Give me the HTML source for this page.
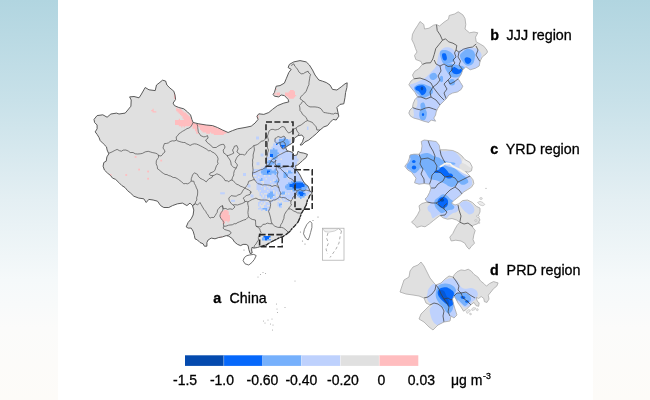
<!DOCTYPE html>
<html lang="en">
<head>
<meta charset="utf-8">
<title>PM2.5 change map</title>
<style>
html,body{margin:0;padding:0;}
body{width:650px;height:400px;overflow:hidden;position:relative;
background:linear-gradient(to bottom,#b1d5e0 0%,#c8e1e9 25%,#e4eff3 50%,#f5f9fa 70%,#fbfbfa 82%,#fdfbf8 100%);
font-family:"Liberation Sans",sans-serif;}
#panel{position:absolute;left:58px;top:0;width:535px;height:400px;background:#fff;}
svg{position:absolute;left:0;top:0;filter:blur(0.35px);}
svg text{font-family:"Liberation Sans",sans-serif;fill:#000;stroke:#000;stroke-width:0.3px;}
</style>
</head>
<body>
<div id="panel"></div>
<svg width="650" height="400" viewBox="0 0 650 400">
<defs>
<clipPath id="cn"><path d="M94.0 119.4 L97.1 115.6 L102.8 114.8 L107.1 117.2 L110.9 114.0 L116.5 113.1 L119.0 114.0 L125.2 113.1 L127.8 110.0 L130.9 106.2 L131.2 100.0 L129.6 96.9 L134.0 96.5 L139.0 97.8 L140.9 95.0 L145.2 87.5 L149.0 89.8 L155.2 90.6 L156.5 85.0 L159.0 83.1 L162.5 80.2 L165.6 81.0 L166.9 85.0 L170.0 88.1 L173.8 91.2 L175.0 95.0 L175.6 99.4 L173.1 103.1 L174.4 105.6 L178.8 107.5 L183.8 108.8 L187.5 111.9 L190.6 115.0 L191.9 119.4 L193.1 122.5 L198.8 123.8 L206.2 125.0 L212.5 125.6 L217.5 127.5 L222.5 130.0 L228.1 132.5 L232.5 130.6 L237.5 128.8 L245.0 127.5 L251.2 126.2 L255.0 123.1 L258.1 119.4 L256.9 116.2 L258.8 113.8 L263.8 114.4 L268.8 112.5 L272.5 109.4 L277.5 105.6 L283.8 103.1 L288.8 101.9 L288.1 99.4 L284.4 95.6 L281.2 95.0 L278.8 96.9 L274.4 96.2 L273.1 94.4 L274.4 92.5 L276.2 86.2 L280.0 85.6 L284.4 83.1 L286.2 78.8 L288.8 72.5 L291.2 69.4 L288.1 67.5 L289.4 64.4 L293.8 61.9 L300.0 60.6 L306.2 61.9 L309.4 65.0 L312.5 70.0 L315.0 75.0 L318.8 80.0 L322.5 81.2 L326.2 82.5 L330.0 85.0 L332.5 89.4 L336.9 90.0 L341.2 86.9 L345.0 83.8 L347.2 82.8 L346.9 87.5 L345.6 92.5 L345.0 97.5 L343.8 103.8 L340.0 104.4 L336.9 107.5 L338.1 113.1 L338.8 116.2 L336.2 120.0 L333.1 119.4 L330.0 122.5 L327.5 125.6 L323.8 126.9 L320.0 130.0 L316.2 133.8 L312.5 136.9 L308.8 140.0 L305.0 141.9 L301.9 145.0 L300.0 145.0 L302.5 141.9 L303.8 137.5 L301.9 135.0 L298.1 135.6 L294.4 138.1 L293.8 141.9 L291.2 143.8 L288.1 145.6 L285.6 147.5 L286.9 150.6 L291.2 151.9 L293.1 153.1 L293.8 155.6 L296.9 155.0 L298.1 151.2 L300.0 152.5 L303.8 153.1 L307.5 154.4 L306.2 157.5 L302.5 160.6 L300.0 163.1 L297.5 165.0 L295.6 165.6 L296.2 170.0 L297.5 171.2 L300.0 175.0 L302.5 180.0 L305.0 183.8 L308.1 186.2 L310.0 191.2 L312.5 193.0 L310.0 195.0 L308.8 198.0 L307.5 200.0 L306.2 205.0 L303.8 209.4 L301.2 213.8 L300.0 217.5 L298.1 221.9 L295.0 225.6 L291.9 228.8 L290.0 231.2 L286.2 234.4 L282.5 236.9 L280.0 237.5 L275.0 240.0 L270.0 242.5 L266.2 245.0 L261.2 246.2 L257.5 247.5 L253.8 248.1 L252.0 247.3 L251.6 250.0 L252.2 253.0 L250.2 253.6 L248.8 249.5 L248.1 245.6 L246.2 244.4 L243.1 244.4 L240.6 245.6 L237.5 244.4 L234.4 241.9 L232.5 238.8 L228.8 236.2 L226.2 235.6 L222.5 236.9 L218.8 237.5 L215.0 238.8 L211.2 238.1 L208.1 240.0 L206.9 242.5 L206.9 246.2 L204.4 246.2 L203.1 243.8 L200.0 242.5 L197.5 240.0 L195.0 238.8 L194.4 235.6 L193.1 231.2 L191.2 228.1 L188.1 228.1 L186.2 226.9 L188.1 222.5 L191.2 218.8 L193.1 215.0 L193.8 210.0 L192.5 205.6 L190.0 203.1 L186.9 205.6 L182.5 203.1 L177.5 203.8 L172.5 205.6 L168.8 207.5 L163.8 207.5 L160.6 205.6 L157.5 201.2 L153.1 200.0 L148.8 199.4 L146.2 202.5 L143.8 198.8 L138.8 198.1 L133.8 196.2 L130.6 193.1 L127.5 190.6 L125.0 187.5 L121.9 185.6 L118.8 182.5 L115.6 179.4 L112.5 178.1 L110.6 175.6 L107.5 173.1 L104.4 170.0 L103.1 166.2 L103.8 162.5 L106.2 161.2 L106.9 156.9 L108.8 153.8 L107.1 150.0 L106.5 146.9 L103.4 143.8 L100.2 140.6 L99.0 137.5 L97.1 134.4 L95.2 131.9 L97.1 128.8 L97.1 125.0 L94.6 122.5Z"/></clipPath>
<clipPath id="cj"><path d="M420.0 21.5 L423.8 24.5 L424.5 29.0 L429.0 28.2 L433.5 25.2 L436.5 24.5 L439.5 26.0 L444.0 22.2 L448.5 19.2 L449.2 15.5 L454.5 14.0 L458.2 11.8 L462.8 14.8 L465.0 18.5 L465.8 24.5 L465.0 29.0 L469.5 32.8 L474.0 32.0 L477.8 32.8 L475.5 37.2 L476.2 41.8 L480.0 44.0 L483.8 46.2 L486.8 50.0 L487.5 52.0 L486.0 54.0 L482.2 57.0 L480.0 61.5 L479.2 66.0 L475.5 68.2 L470.2 69.8 L465.8 66.8 L462.8 69.8 L461.2 74.2 L458.2 78.8 L460.5 82.5 L462.8 86.2 L461.2 89.4 L457.5 91.9 L452.5 93.1 L448.8 95.0 L446.2 98.8 L443.1 101.9 L440.0 105.0 L437.5 108.8 L436.2 111.9 L435.6 115.0 L433.8 118.1 L435.6 121.2 L431.2 120.0 L428.8 122.5 L423.8 121.2 L418.8 119.4 L413.8 118.1 L410.6 116.2 L408.8 113.1 L410.0 110.0 L412.5 107.5 L413.1 103.8 L415.0 99.4 L417.5 96.9 L415.0 92.5 L411.9 88.8 L408.8 84.8 L411.0 81.0 L414.0 78.8 L412.5 75.0 L414.8 71.2 L418.5 69.0 L422.2 64.5 L421.0 61.5 L415.8 59.5 L414.5 55.5 L417.0 52.0 L415.5 48.5 L414.0 44.0 L411.8 39.5 L412.5 34.2 L414.8 29.8 L417.8 25.2Z"/></clipPath>
<clipPath id="cy"><path d="M421.2 141.5 L424.2 140.0 L431.0 140.8 L436.2 141.5 L439.2 145.2 L440.0 149.8 L446.0 149.8 L452.8 150.5 L458.0 152.8 L461.8 155.8 L464.8 159.5 L470.0 162.5 L472.2 167.0 L471.5 170.8 L468.5 172.2 L465.5 171.5 L470.0 176.0 L473.0 179.8 L473.8 183.5 L471.5 187.2 L467.8 189.5 L463.8 191.9 L460.0 195.6 L456.2 198.8 L453.1 201.2 L451.5 203.2 L455.0 205.0 L458.8 203.8 L462.5 200.6 L467.5 200.0 L472.5 202.5 L476.2 206.2 L480.0 208.1 L480.0 211.9 L478.1 216.2 L480.0 220.0 L477.5 223.8 L473.8 225.0 L472.0 226.5 L475.2 230.5 L473.8 235.0 L473.0 239.5 L474.5 243.2 L471.5 246.2 L469.2 249.2 L467.0 247.0 L464.8 243.2 L461.0 241.0 L455.8 240.2 L451.2 241.0 L449.8 237.2 L452.8 233.5 L455.0 229.0 L457.2 225.2 L459.8 222.2 L456.5 220.0 L452.0 218.5 L447.5 219.2 L443.0 217.8 L440.0 215.5 L437.0 217.8 L433.2 220.8 L429.5 223.8 L425.0 226.8 L421.2 226.0 L416.8 227.5 L415.2 225.2 L411.5 222.2 L414.5 219.2 L417.5 214.8 L419.8 210.2 L419.0 205.8 L422.0 203.5 L427.2 202.0 L425.0 199.0 L427.2 197.0 L429.5 192.5 L431.0 188.0 L429.5 184.2 L424.2 183.5 L419.0 184.2 L414.5 182.8 L416.0 178.2 L413.8 175.2 L411.5 172.2 L407.8 170.0 L404.8 166.2 L407.8 162.5 L409.2 158.8 L410.0 155.0 L413.8 154.2 L419.0 154.2 L421.2 151.2 L422.0 146.0Z"/></clipPath>
<clipPath id="cp"><path d="M421.0 262.0 L424.0 266.0 L427.0 272.0 L430.0 278.0 L434.0 283.0 L436.0 285.0 L441.0 283.0 L445.0 279.0 L449.0 276.0 L453.0 277.0 L454.5 274.4 L457.1 271.8 L461.0 269.9 L464.9 270.5 L468.2 269.2 L471.4 271.2 L474.0 274.4 L477.9 277.0 L480.5 280.9 L483.8 283.5 L486.4 286.1 L489.6 283.5 L493.5 281.6 L498.1 282.9 L496.8 286.1 L493.5 288.7 L490.9 292.0 L488.3 295.2 L489.0 299.1 L487.0 302.4 L484.4 301.7 L483.8 298.5 L481.2 296.5 L478.6 298.5 L476.0 297.2 L477.3 301.1 L479.2 303.0 L478.6 306.3 L476.0 305.6 L474.0 302.4 L471.4 304.3 L468.8 306.9 L466.2 309.5 L463.5 311.2 L461.0 307.0 L458.0 303.0 L456.0 299.0 L454.0 296.0 L452.5 299.0 L453.5 304.0 L455.0 309.0 L457.0 315.0 L454.0 318.0 L451.0 316.0 L450.0 321.0 L444.0 322.0 L438.0 325.0 L433.0 330.0 L429.0 327.0 L424.0 322.0 L419.0 319.0 L421.0 314.0 L426.0 309.0 L430.0 305.0 L426.0 303.0 L424.0 298.0 L419.0 296.0 L413.0 295.0 L406.0 294.0 L400.0 292.0 L402.0 286.0 L404.0 280.0 L409.0 277.0 L410.0 271.0 L413.0 267.0 L418.0 265.0Z"/></clipPath>
</defs>
<path d="M94.0 119.4 L97.1 115.6 L102.8 114.8 L107.1 117.2 L110.9 114.0 L116.5 113.1 L119.0 114.0 L125.2 113.1 L127.8 110.0 L130.9 106.2 L131.2 100.0 L129.6 96.9 L134.0 96.5 L139.0 97.8 L140.9 95.0 L145.2 87.5 L149.0 89.8 L155.2 90.6 L156.5 85.0 L159.0 83.1 L162.5 80.2 L165.6 81.0 L166.9 85.0 L170.0 88.1 L173.8 91.2 L175.0 95.0 L175.6 99.4 L173.1 103.1 L174.4 105.6 L178.8 107.5 L183.8 108.8 L187.5 111.9 L190.6 115.0 L191.9 119.4 L193.1 122.5 L198.8 123.8 L206.2 125.0 L212.5 125.6 L217.5 127.5 L222.5 130.0 L228.1 132.5 L232.5 130.6 L237.5 128.8 L245.0 127.5 L251.2 126.2 L255.0 123.1 L258.1 119.4 L256.9 116.2 L258.8 113.8 L263.8 114.4 L268.8 112.5 L272.5 109.4 L277.5 105.6 L283.8 103.1 L288.8 101.9 L288.1 99.4 L284.4 95.6 L281.2 95.0 L278.8 96.9 L274.4 96.2 L273.1 94.4 L274.4 92.5 L276.2 86.2 L280.0 85.6 L284.4 83.1 L286.2 78.8 L288.8 72.5 L291.2 69.4 L288.1 67.5 L289.4 64.4 L293.8 61.9 L300.0 60.6 L306.2 61.9 L309.4 65.0 L312.5 70.0 L315.0 75.0 L318.8 80.0 L322.5 81.2 L326.2 82.5 L330.0 85.0 L332.5 89.4 L336.9 90.0 L341.2 86.9 L345.0 83.8 L347.2 82.8 L346.9 87.5 L345.6 92.5 L345.0 97.5 L343.8 103.8 L340.0 104.4 L336.9 107.5 L338.1 113.1 L338.8 116.2 L336.2 120.0 L333.1 119.4 L330.0 122.5 L327.5 125.6 L323.8 126.9 L320.0 130.0 L316.2 133.8 L312.5 136.9 L308.8 140.0 L305.0 141.9 L301.9 145.0 L300.0 145.0 L302.5 141.9 L303.8 137.5 L301.9 135.0 L298.1 135.6 L294.4 138.1 L293.8 141.9 L291.2 143.8 L288.1 145.6 L285.6 147.5 L286.9 150.6 L291.2 151.9 L293.1 153.1 L293.8 155.6 L296.9 155.0 L298.1 151.2 L300.0 152.5 L303.8 153.1 L307.5 154.4 L306.2 157.5 L302.5 160.6 L300.0 163.1 L297.5 165.0 L295.6 165.6 L296.2 170.0 L297.5 171.2 L300.0 175.0 L302.5 180.0 L305.0 183.8 L308.1 186.2 L310.0 191.2 L312.5 193.0 L310.0 195.0 L308.8 198.0 L307.5 200.0 L306.2 205.0 L303.8 209.4 L301.2 213.8 L300.0 217.5 L298.1 221.9 L295.0 225.6 L291.9 228.8 L290.0 231.2 L286.2 234.4 L282.5 236.9 L280.0 237.5 L275.0 240.0 L270.0 242.5 L266.2 245.0 L261.2 246.2 L257.5 247.5 L253.8 248.1 L252.0 247.3 L251.6 250.0 L252.2 253.0 L250.2 253.6 L248.8 249.5 L248.1 245.6 L246.2 244.4 L243.1 244.4 L240.6 245.6 L237.5 244.4 L234.4 241.9 L232.5 238.8 L228.8 236.2 L226.2 235.6 L222.5 236.9 L218.8 237.5 L215.0 238.8 L211.2 238.1 L208.1 240.0 L206.9 242.5 L206.9 246.2 L204.4 246.2 L203.1 243.8 L200.0 242.5 L197.5 240.0 L195.0 238.8 L194.4 235.6 L193.1 231.2 L191.2 228.1 L188.1 228.1 L186.2 226.9 L188.1 222.5 L191.2 218.8 L193.1 215.0 L193.8 210.0 L192.5 205.6 L190.0 203.1 L186.9 205.6 L182.5 203.1 L177.5 203.8 L172.5 205.6 L168.8 207.5 L163.8 207.5 L160.6 205.6 L157.5 201.2 L153.1 200.0 L148.8 199.4 L146.2 202.5 L143.8 198.8 L138.8 198.1 L133.8 196.2 L130.6 193.1 L127.5 190.6 L125.0 187.5 L121.9 185.6 L118.8 182.5 L115.6 179.4 L112.5 178.1 L110.6 175.6 L107.5 173.1 L104.4 170.0 L103.1 166.2 L103.8 162.5 L106.2 161.2 L106.9 156.9 L108.8 153.8 L107.1 150.0 L106.5 146.9 L103.4 143.8 L100.2 140.6 L99.0 137.5 L97.1 134.4 L95.2 131.9 L97.1 128.8 L97.1 125.0 L94.6 122.5Z" fill="#e0e0e0"/>
<g clip-path="url(#cn)">
<path d="M290.0 90.0h3.8v1.30h-3.8zM288.8 91.2h6.2v1.30h-6.2zM285.0 92.5h10.0v1.30h-10.0zM285.0 93.8h10.0v1.30h-10.0zM285.0 95.0h11.2v1.30h-11.2zM287.5 96.2h7.5v1.30h-7.5zM288.8 97.5h5.0v1.30h-5.0zM176.2 107.5h1.2v1.30h-1.2zM152.5 108.8h1.2v1.30h-1.2zM176.2 108.8h5.0v1.30h-5.0zM151.2 110.0h2.5v1.30h-2.5zM176.2 110.0h6.2v1.30h-6.2zM152.5 111.2h3.8v1.30h-3.8zM177.5 111.2h6.2v1.30h-6.2zM178.8 112.5h7.5v1.30h-7.5zM180.0 113.8h7.5v1.30h-7.5zM181.2 115.0h7.5v1.30h-7.5zM182.5 116.2h7.5v1.30h-7.5zM182.5 117.5h8.8v1.30h-8.8zM178.8 118.8h1.2v1.30h-1.2zM183.8 118.8h7.5v1.30h-7.5zM175.0 120.0h17.5v1.30h-17.5zM175.0 121.2h17.5v1.30h-17.5zM175.0 122.5h20.0v1.30h-20.0zM175.0 123.8h28.8v1.30h-28.8zM178.8 125.0h12.5v1.30h-12.5zM192.5 125.0h18.8v1.30h-18.8zM212.5 125.0h1.2v1.30h-1.2zM181.2 126.2h1.2v1.30h-1.2zM183.8 126.2h1.2v1.30h-1.2zM192.5 126.2h5.0v1.30h-5.0zM198.8 126.2h16.2v1.30h-16.2zM192.5 127.5h5.0v1.30h-5.0zM200.0 127.5h18.8v1.30h-18.8zM195.0 128.8h2.5v1.30h-2.5zM200.0 128.8h21.2v1.30h-21.2zM195.0 130.0h2.5v1.30h-2.5zM201.2 130.0h22.5v1.30h-22.5zM196.2 131.2h1.2v1.30h-1.2zM202.5 131.2h25.0v1.30h-25.0zM196.2 132.5h2.5v1.30h-2.5zM206.2 132.5h3.8v1.30h-3.8zM211.2 132.5h15.0v1.30h-15.0zM213.8 133.8h10.0v1.30h-10.0zM223.8 210.0h3.8v1.30h-3.8zM221.2 211.2h7.5v1.30h-7.5zM220.0 212.5h8.8v1.30h-8.8zM221.2 213.8h7.5v1.30h-7.5zM220.0 215.0h10.0v1.30h-10.0zM220.0 216.2h10.0v1.30h-10.0zM221.2 217.5h8.8v1.30h-8.8zM221.2 218.8h8.8v1.30h-8.8zM222.5 220.0h7.5v1.30h-7.5zM222.5 221.2h2.5v1.30h-2.5zM227.5 221.2h1.2v1.30h-1.2zM222.5 222.5h2.5v1.30h-2.5z" fill="#ffbdbf"/>
<path d="M274.4 92.5 L275.6 92.5 L275.6 95.0 L274.4 95.0Z" fill="#ffbdbf"/>
<path d="M275.6 88.8 L276.9 88.8 L276.9 90.0 L275.6 90.0Z" fill="#ffbdbf"/>
<path d="M276.5 92.5 L280.0 92.5 L280.0 95.5 L276.5 95.5Z" fill="#ffbdbf"/>
<path d="M218.8 236.9 L222.5 236.5 L222.5 238.0 L218.8 238.2Z" fill="#ffbdbf"/>
<path d="M256.9 116.2 L258.5 114.5 L258.5 118.5 L257.0 119.0Z" fill="#ffbdbf"/>
<path d="M172.5 86.5 L174.0 86.5 L174.0 88.0 L172.5 88.0Z" fill="#ffbdbf"/>
<path d="M174.0 93.0 L175.5 93.0 L175.5 99.0 L174.0 99.0Z" fill="#ffbdbf"/>
<rect x="134.7" y="156.0" width="1.8" height="1.8" fill="#ffbdbf"/>
<rect x="160.3" y="159.7" width="1.8" height="1.8" fill="#ffbdbf"/>
<rect x="138.2" y="168.7" width="1.8" height="1.8" fill="#ffbdbf"/>
<rect x="147.2" y="170.6" width="1.8" height="1.8" fill="#ffbdbf"/>
<rect x="125.3" y="174.1" width="1.8" height="1.8" fill="#ffbdbf"/>
<rect x="147.2" y="177.8" width="1.8" height="1.8" fill="#ffbdbf"/>
<rect x="109.7" y="174.1" width="1.8" height="1.8" fill="#ffbdbf"/>
<path d="M279.0 137.5h7.5v1.55h-7.5zM274.5 139.0h1.5v1.55h-1.5zM277.5 139.0h13.5v1.55h-13.5zM274.5 140.5h16.5v1.55h-16.5zM274.5 142.0h16.5v1.55h-16.5zM273.0 143.5h4.5v1.55h-4.5zM279.0 143.5h12.0v1.55h-12.0zM273.0 145.0h16.5v1.55h-16.5zM271.5 146.5h15.0v1.55h-15.0zM271.5 148.0h16.5v1.55h-16.5zM270.0 149.5h16.5v1.55h-16.5zM270.0 151.0h18.0v1.55h-18.0zM289.5 151.0h3.0v1.55h-3.0zM268.5 152.5h12.0v1.55h-12.0zM282.0 152.5h10.5v1.55h-10.5zM268.5 154.0h25.5v1.55h-25.5zM268.5 155.5h28.5v1.55h-28.5zM267.0 157.0h3.0v1.55h-3.0zM271.5 157.0h25.5v1.55h-25.5zM267.0 158.5h1.5v1.55h-1.5zM270.0 158.5h10.5v1.55h-10.5zM282.0 158.5h10.5v1.55h-10.5zM294.0 158.5h4.5v1.55h-4.5zM267.0 160.0h31.5v1.55h-31.5zM267.0 161.5h30.0v1.55h-30.0zM267.0 163.0h30.0v1.55h-30.0zM265.5 164.5h30.0v1.55h-30.0zM264.0 166.0h22.5v1.55h-22.5zM288.0 166.0h7.5v1.55h-7.5zM261.0 167.5h34.5v1.55h-34.5zM253.5 169.0h42.0v1.55h-42.0zM253.5 170.5h1.5v1.55h-1.5zM256.5 170.5h1.5v1.55h-1.5zM259.5 170.5h27.0v1.55h-27.0zM288.0 170.5h9.0v1.55h-9.0zM252.0 172.0h46.5v1.55h-46.5zM252.0 173.5h7.5v1.55h-7.5zM261.0 173.5h33.0v1.55h-33.0zM295.5 173.5h4.5v1.55h-4.5zM256.5 175.0h7.5v1.55h-7.5zM265.5 175.0h3.0v1.55h-3.0zM270.0 175.0h30.0v1.55h-30.0zM253.5 176.5h4.5v1.55h-4.5zM259.5 176.5h40.5v1.55h-40.5zM256.5 178.0h9.0v1.55h-9.0zM267.0 178.0h21.0v1.55h-21.0zM289.5 178.0h13.5v1.55h-13.5zM255.0 179.5h18.0v1.55h-18.0zM274.5 179.5h28.5v1.55h-28.5zM256.5 181.0h4.5v1.55h-4.5zM264.0 181.0h6.0v1.55h-6.0zM271.5 181.0h33.0v1.55h-33.0zM256.5 182.5h6.0v1.55h-6.0zM264.0 182.5h42.0v1.55h-42.0zM256.5 184.0h6.0v1.55h-6.0zM264.0 184.0h4.5v1.55h-4.5zM270.0 184.0h1.5v1.55h-1.5zM273.0 184.0h1.5v1.55h-1.5zM276.0 184.0h31.5v1.55h-31.5zM256.5 185.5h4.5v1.55h-4.5zM262.5 185.5h4.5v1.55h-4.5zM268.5 185.5h4.5v1.55h-4.5zM274.5 185.5h1.5v1.55h-1.5zM279.0 185.5h30.0v1.55h-30.0zM256.5 187.0h7.5v1.55h-7.5zM265.5 187.0h3.0v1.55h-3.0zM270.0 187.0h1.5v1.55h-1.5zM273.0 187.0h36.0v1.55h-36.0zM256.5 188.5h7.5v1.55h-7.5zM265.5 188.5h45.0v1.55h-45.0zM258.0 190.0h1.5v1.55h-1.5zM261.0 190.0h6.0v1.55h-6.0zM268.5 190.0h4.5v1.55h-4.5zM274.5 190.0h16.5v1.55h-16.5zM292.5 190.0h13.5v1.55h-13.5zM307.5 190.0h3.0v1.55h-3.0zM259.5 191.5h13.5v1.55h-13.5zM274.5 191.5h1.5v1.55h-1.5zM277.5 191.5h33.0v1.55h-33.0zM259.5 193.0h1.5v1.55h-1.5zM262.5 193.0h1.5v1.55h-1.5zM267.0 193.0h9.0v1.55h-9.0zM277.5 193.0h7.5v1.55h-7.5zM286.5 193.0h1.5v1.55h-1.5zM289.5 193.0h19.5v1.55h-19.5zM259.5 194.5h3.0v1.55h-3.0zM264.0 194.5h12.0v1.55h-12.0zM279.0 194.5h1.5v1.55h-1.5zM282.0 194.5h1.5v1.55h-1.5zM285.0 194.5h10.5v1.55h-10.5zM297.0 194.5h10.5v1.55h-10.5zM261.0 196.0h1.5v1.55h-1.5zM264.0 196.0h1.5v1.55h-1.5zM267.0 196.0h6.0v1.55h-6.0zM274.5 196.0h1.5v1.55h-1.5zM277.5 196.0h15.0v1.55h-15.0zM295.5 196.0h9.0v1.55h-9.0zM262.5 197.5h3.0v1.55h-3.0zM267.0 197.5h1.5v1.55h-1.5zM270.0 197.5h9.0v1.55h-9.0zM282.0 197.5h12.0v1.55h-12.0zM300.0 197.5h1.5v1.55h-1.5zM259.5 199.0h1.5v1.55h-1.5zM262.5 199.0h1.5v1.55h-1.5zM265.5 199.0h1.5v1.55h-1.5zM271.5 199.0h4.5v1.55h-4.5zM277.5 199.0h3.0v1.55h-3.0zM282.0 199.0h1.5v1.55h-1.5zM285.0 199.0h1.5v1.55h-1.5zM288.0 199.0h1.5v1.55h-1.5zM259.5 200.5h6.0v1.55h-6.0zM268.5 200.5h1.5v1.55h-1.5zM271.5 200.5h1.5v1.55h-1.5zM283.5 200.5h6.0v1.55h-6.0zM258.0 202.0h3.0v1.55h-3.0zM262.5 202.0h1.5v1.55h-1.5zM265.5 202.0h3.0v1.55h-3.0zM270.0 202.0h1.5v1.55h-1.5zM277.5 202.0h1.5v1.55h-1.5zM280.5 202.0h1.5v1.55h-1.5zM258.0 203.5h1.5v1.55h-1.5zM261.0 203.5h1.5v1.55h-1.5zM265.5 203.5h4.5v1.55h-4.5zM277.5 203.5h4.5v1.55h-4.5zM258.0 205.0h1.5v1.55h-1.5zM264.0 205.0h3.0v1.55h-3.0zM277.5 205.0h4.5v1.55h-4.5zM259.5 206.5h1.5v1.55h-1.5zM264.0 206.5h6.0v1.55h-6.0zM279.0 206.5h3.0v1.55h-3.0zM258.0 208.0h10.5v1.55h-10.5zM261.0 209.5h1.5v1.55h-1.5zM265.5 209.5h4.5v1.55h-4.5z" fill="#bed1fd"/><path d="M283.5 137.5h1.5v1.55h-1.5zM279.0 139.0h9.0v1.55h-9.0zM279.0 140.5h10.5v1.55h-10.5zM277.5 142.0h12.0v1.55h-12.0zM279.0 143.5h10.5v1.55h-10.5zM280.5 145.0h9.0v1.55h-9.0zM283.5 146.5h3.0v1.55h-3.0zM273.0 148.0h1.5v1.55h-1.5zM270.0 149.5h7.5v1.55h-7.5zM270.0 151.0h7.5v1.55h-7.5zM270.0 152.5h9.0v1.55h-9.0zM270.0 154.0h7.5v1.55h-7.5zM271.5 155.5h6.0v1.55h-6.0zM271.5 157.0h6.0v1.55h-6.0zM273.0 158.5h3.0v1.55h-3.0zM268.5 160.0h3.0v1.55h-3.0zM267.0 161.5h7.5v1.55h-7.5zM268.5 163.0h6.0v1.55h-6.0zM277.5 163.0h3.0v1.55h-3.0zM267.0 164.5h4.5v1.55h-4.5zM276.0 164.5h4.5v1.55h-4.5zM277.5 166.0h3.0v1.55h-3.0zM264.0 167.5h3.0v1.55h-3.0zM262.5 169.0h9.0v1.55h-9.0zM274.5 169.0h1.5v1.55h-1.5zM261.0 170.5h15.0v1.55h-15.0zM288.0 170.5h3.0v1.55h-3.0zM261.0 172.0h16.5v1.55h-16.5zM283.5 172.0h3.0v1.55h-3.0zM288.0 172.0h4.5v1.55h-4.5zM262.5 173.5h9.0v1.55h-9.0zM274.5 173.5h1.5v1.55h-1.5zM283.5 173.5h4.5v1.55h-4.5zM283.5 175.0h4.5v1.55h-4.5zM283.5 176.5h3.0v1.55h-3.0zM261.0 178.0h1.5v1.55h-1.5zM259.5 179.5h3.0v1.55h-3.0zM276.0 179.5h1.5v1.55h-1.5zM274.5 181.0h4.5v1.55h-4.5zM291.0 181.0h1.5v1.55h-1.5zM294.0 181.0h7.5v1.55h-7.5zM288.0 182.5h18.0v1.55h-18.0zM286.5 184.0h21.0v1.55h-21.0zM285.0 185.5h24.0v1.55h-24.0zM285.0 187.0h22.5v1.55h-22.5zM286.5 188.5h19.5v1.55h-19.5zM292.5 190.0h3.0v1.55h-3.0zM297.0 190.0h7.5v1.55h-7.5zM270.0 191.5h3.0v1.55h-3.0zM282.0 191.5h3.0v1.55h-3.0zM297.0 191.5h7.5v1.55h-7.5zM268.5 193.0h4.5v1.55h-4.5zM280.5 193.0h4.5v1.55h-4.5zM297.0 193.0h9.0v1.55h-9.0zM267.0 194.5h7.5v1.55h-7.5zM297.0 194.5h9.0v1.55h-9.0zM267.0 196.0h6.0v1.55h-6.0zM298.5 196.0h6.0v1.55h-6.0zM270.0 197.5h1.5v1.55h-1.5zM300.0 197.5h1.5v1.55h-1.5zM279.0 203.5h3.0v1.55h-3.0zM279.0 205.0h1.5v1.55h-1.5zM262.5 208.0h4.5v1.55h-4.5zM265.5 209.5h1.5v1.55h-1.5z" fill="#76b0fc"/><path d="M276.0 143.5h1.5v1.55h-1.5zM280.5 145.0h4.5v1.55h-4.5zM282.0 146.5h1.5v1.55h-1.5zM286.5 148.0h1.5v1.55h-1.5zM270.0 154.0h3.0v1.55h-3.0zM270.0 155.5h3.0v1.55h-3.0zM267.0 170.5h3.0v1.55h-3.0zM267.0 172.0h1.5v1.55h-1.5zM292.5 182.5h10.5v1.55h-10.5zM289.5 184.0h15.0v1.55h-15.0zM289.5 185.5h15.0v1.55h-15.0zM292.5 187.0h9.0v1.55h-9.0zM298.5 191.5h4.5v1.55h-4.5zM298.5 193.0h6.0v1.55h-6.0zM300.0 194.5h3.0v1.55h-3.0z" fill="#0668fb"/><rect x="256.0" y="136.5" width="3.0" height="3.0" fill="#bed1fd"/><rect x="260.5" y="153.5" width="3.0" height="3.0" fill="#bed1fd"/><rect x="256.5" y="162.2" width="3.0" height="3.0" fill="#bed1fd"/><rect x="220.2" y="192.3" width="4.6" height="2.0" fill="#bed1fd"/><rect x="231.0" y="199.8" width="4.0" height="2.0" fill="#bed1fd"/><rect x="243.0" y="173.0" width="3.0" height="3.0" fill="#bed1fd"/><rect x="306.9" y="126.5" width="1.6" height="3.4" fill="#bed1fd"/><rect x="250.5" y="194.5" width="3.0" height="3.0" fill="#bed1fd"/><rect x="247.5" y="184.5" width="3.0" height="3.0" fill="#bed1fd"/><path d="M263.5 236h7v1.5h-1.5v1.5h-1.5v1.5h-2.5v-1.5h-1.5z" fill="#0668fb"/><path d="M262 237.5h3v3h-3zM268 239h3v1.5h-3z" fill="#76b0fc"/>
</g>
<path d="M193.1 122.5 L191.9 125.0 L190.7 126.9 L188.8 128.1 L187.0 128.6 L185.4 129.7 L183.8 130.6 L182.4 131.4 L180.4 132.8 L178.8 133.8 L178.0 135.3 L176.2 136.9 L176.5 140.2 L174.1 141.0 L172.3 140.8 L170.0 141.6 L168.6 142.8 L166.6 143.4 L164.4 143.6 L163.5 146.1 L163.0 148.0 L164.5 150.2 L165.0 152.0 L163.6 152.9 L162.3 154.8 L161.0 156.0 L158.4 155.5M108.4 153.1 L109.8 152.9 L112.1 151.9 L114.1 150.8 L115.4 150.2 L117.1 149.4 L119.5 150.7 L121.5 151.2 L123.2 150.1 L125.9 150.0 L128.5 151.2 L130.2 152.5 L133.1 152.5 L135.2 153.8 L137.7 154.0 L140.2 153.8 L142.4 153.4 L145.2 151.9 L148.2 151.3 L150.2 151.9 L152.2 152.5 L155.2 153.1 L157.4 153.9 L158.4 155.0M158.4 155.0 L158.5 157.4 L157.5 158.8 L156.3 160.8 L156.2 163.8 L157.3 166.5 L157.5 168.8 L159.6 170.1 L161.2 171.9 L163.3 173.3 L165.0 174.4 L167.0 174.6 L168.8 175.6 L170.8 176.1 L173.2 177.5 L175.0 177.5 L177.2 178.6 L178.3 179.3 L180.0 180.6 L181.3 181.6 L183.8 183.8 L185.6 183.5 L187.5 183.8 L189.2 183.0 L191.2 181.2M191.2 181.2 L193.8 181.2 L194.4 183.5 L195.6 185.6 L196.4 187.9 L197.5 190.0 L197.7 192.0 L197.5 195.0 L196.6 197.9 L196.9 200.0 L195.7 201.6 L195.0 203.8 L192.5 205.6M191.2 181.2 L191.3 178.7 L192.0 176.7 L192.5 175.0 L194.4 172.8 L197.5 174.4 L198.2 176.1 L200.0 178.1 L202.4 179.4 L203.8 180.0 L206.2 181.9 L207.8 180.0 L208.8 178.8 L211.9 177.5 L213.1 175.6M176.9 140.6 L179.1 141.4 L181.3 142.1 L183.3 142.5 L185.0 142.5 L186.1 143.5 L188.9 144.7 L190.0 145.5 L192.7 144.2 L194.4 143.8 L196.5 144.1 L198.8 145.0 L200.7 146.0 L202.5 146.9 L204.1 147.8 L206.9 149.4 L208.3 150.7 L210.6 150.7 L211.9 151.9 L214.4 153.0 L216.2 155.0 L217.3 156.4 L218.1 158.8 L217.5 161.7 L218.1 163.8 L216.5 165.6 L215.6 168.1 L214.9 170.4 L213.1 171.9 L210.0 173.1 L209.4 174.5 L211.0 175.6 L213.1 175.6M196.9 123.8 L197.7 126.2 L197.7 127.6 L198.1 130.0 L198.3 132.1 L199.7 134.0 L200.6 135.6 L203.8 136.9 L205.5 136.6 L207.5 135.6 L208.1 138.1 L205.6 140.0 L206.9 142.2 L208.8 143.8 L210.5 144.9 L211.7 146.5 L213.1 147.5 L216.2 147.5 L217.8 146.3 L220.0 145.0 L222.2 144.4 L223.8 144.4 L225.0 146.9 L224.4 148.7 L223.1 150.0 L223.8 153.1 L225.7 154.2 L226.9 155.6 L228.6 155.4 L231.2 154.4 L233.8 153.1 L232.5 150.0 L233.8 148.1 L234.4 146.2 L236.9 145.6 L238.1 148.8 L236.9 151.9 L238.0 152.8 L240.0 154.4 L242.4 154.4 L244.4 155.0 L246.2 153.6 L246.9 151.9 L248.1 150.5 L250.0 148.8 L251.7 147.7 L253.8 145.6 L256.1 145.0 L257.5 144.4 L259.5 143.1 L261.2 141.2 L263.5 140.9 L265.0 139.4 L265.7 137.5 L267.5 136.0 L268.4 133.3 L269.0 131.0 L271.0 129.5 L273.1 129.3 L275.0 130.0 L277.5 129.5 L279.0 129.0 L280.0 127.9 L282.0 126.5 L284.5 127.0 L286.0 130.0 L287.0 131.1 L288.5 133.0 L291.0 132.0 L293.0 129.5 L296.0 128.0 L298.0 126.3 L300.0 125.5 L301.2 124.9 L303.0 123.5 L305.5 121.5 L307.5 120.6M226.9 155.6 L228.2 157.4 L230.0 160.0 L230.8 162.0 L231.2 165.0 L233.8 167.5 L236.2 168.1 L237.5 165.0 L236.3 163.3 L235.0 161.9 L236.2 158.8 L237.0 157.3 L238.2 155.8 L240.0 154.4M236.2 168.1 L234.4 170.6 L233.7 173.4 L233.8 175.0 L232.4 177.7 L231.9 180.0 L229.8 180.6 L228.8 181.9 L227.5 180.9 L225.0 180.6 L224.2 179.0 L223.1 177.5 L221.5 176.2 L220.0 175.0 L216.9 173.8 L214.6 175.1 L213.1 175.6M231.9 180.0 L233.4 181.1 L235.0 182.5 L236.4 184.2 L238.8 185.0 L240.0 186.0 L242.5 186.9 L245.0 188.1M253.8 145.6 L254.2 147.7 L254.4 150.0 L253.8 152.1 L253.1 155.0 L253.2 157.9 L252.5 160.0 L252.7 162.1 L252.5 165.0 L252.8 167.3 L253.1 170.0 L252.5 173.1M252.5 173.1 L252.5 176.0 L253.4 177.8 L254.4 179.4 L252.5 180.0 L251.1 180.6 L248.8 181.2 L248.1 183.2 L247.5 185.0 L245.9 186.6 L245.0 188.1M252.5 173.1 L255.0 172.4 L257.5 171.2 L260.2 169.9 L262.5 169.4 L263.8 168.3 L266.2 167.5 L266.0 166.0 L266.6 163.9 L266.5 162.1 L266.5 160.0 L266.6 157.4 L267.5 155.0 L267.6 153.0 L268.5 150.0 L267.5 147.9 L267.5 145.0 L267.5 142.7 L268.5 140.0 L267.8 137.9 L267.5 136.0M254.4 179.4 L255.3 181.1 L257.1 182.7 L258.1 183.8 L259.9 184.1 L262.5 185.0 L264.6 184.7 L267.5 185.0 L270.0 185.3 L272.0 186.5 L274.0 185.7 L276.0 185.5 L277.3 186.7 L279.0 188.0M245.0 188.1 L243.3 189.9 L242.5 191.2 L241.4 193.4 L240.0 194.4 L237.9 195.0 L236.2 196.2 L234.0 196.1 L231.2 195.6 L228.8 198.1 L229.1 200.2 L230.0 201.9 L231.4 203.8 L233.1 205.0 L234.8 204.7 L237.5 205.0 L239.9 204.2 L241.2 203.8 L242.8 203.2 L245.0 201.9 L244.2 199.6 L243.1 198.1 L244.7 197.0 L246.2 195.6 L247.7 195.2 L250.0 194.4 L251.2 191.9 L248.8 190.0 L246.4 188.9 L245.0 188.1M233.1 205.0 L235.0 206.9 L232.5 209.4 L230.0 208.8 L227.5 209.4 L225.9 208.5 L223.1 208.8 L222.5 205.6M192.5 205.6 L193.9 204.7 L195.6 203.8 L197.5 205.0 L200.0 202.5 L201.2 204.6 L202.5 206.9 L203.9 209.3 L205.6 211.2 L206.6 213.3 L208.1 215.0 L208.5 216.3 L210.0 218.1 L211.7 217.4 L213.8 217.5 L215.3 215.4 L216.2 213.8 L217.2 212.4 L217.5 210.0 L218.5 208.9 L220.0 206.9 L222.5 205.6 L223.1 208.8 L222.5 210.8 L221.2 212.5 L220.0 215.0 L220.1 216.8 L221.2 218.8 L222.7 220.4 L223.8 222.5 L223.4 224.1 L223.8 226.2 L223.1 228.1 L224.4 229.4 L226.2 230.0 L227.9 230.5 L230.0 231.2 L231.2 233.1 L228.8 235.0 L226.9 235.6M223.8 226.2 L225.9 226.2 L228.5 225.2 L230.0 225.0 L232.3 224.8 L234.2 223.7 L236.0 223.8 L237.1 222.8 L239.6 221.8 L241.0 221.2 L243.5 220.1 L246.0 219.4 L248.5 216.9M245.0 201.9 L246.0 201.2 L247.9 201.9 L247.7 204.0 L248.1 205.3 L248.5 207.5 L248.2 210.0 L247.9 212.5 L248.2 214.6 L248.5 216.9M248.5 216.9 L250.6 218.5 L252.2 219.4 L255.4 220.0 L255.6 222.1 L255.7 224.8 L256.0 226.2 L257.6 227.1 L259.8 228.8 L260.1 230.3 L261.0 232.5 L259.8 233.8 L259.1 235.6 L258.3 237.6 L258.5 240.0 L257.0 242.1 L256.0 244.0 L254.5 245.5 L253.8 248.1M256.0 226.2 L259.0 226.8 L261.0 226.9 L262.9 224.4 L265.4 224.2 L267.2 223.1 L269.5 223.6 L272.2 223.8 L274.8 226.2 L277.7 227.3 L279.8 227.5 L281.7 227.4 L283.5 228.1 L286.0 230.0 L288.5 232.5 L290.0 231.2M247.9 201.9 L249.7 200.9 L252.2 199.4 L254.3 198.7 L256.0 198.1 L258.2 199.4 L261.0 200.0 L263.9 200.0 L266.0 200.0 L267.9 200.3 L269.8 201.2M251.2 191.9 L249.8 192.5M269.8 201.2 L270.6 204.3 L270.4 206.2 L269.9 208.3 L268.5 211.2 L269.2 213.0 L269.8 215.0 L270.4 217.1 L271.0 220.0 L271.3 221.8 L272.2 223.8M269.8 201.2 L271.9 201.0 L273.5 200.0 L275.0 200.0 L277.2 198.8 L279.8 196.9 L280.0 195.2 L281.0 193.0 L279.5 190.8 L279.0 188.0M279.8 196.9 L281.5 197.7 L283.5 197.5 L285.8 198.1 L287.2 199.4 L289.6 200.5 L291.0 201.2 L290.8 203.7 L291.6 205.0 L289.8 206.6 L288.5 208.8 L287.2 210.4 L286.0 211.9 L284.6 214.3 L284.1 216.2 L283.9 218.4 L282.9 220.6 L282.3 222.6 L281.0 224.4 L279.8 227.5M288.5 208.8 L290.7 209.0 L292.2 210.0 L293.8 211.1 L296.0 211.9 L297.3 212.8 L299.8 213.1 L301.5 213.5M291.0 201.2 L292.2 199.4 L293.0 197.0 L295.0 195.6 L296.0 195.0 L296.0 193.4 L297.0 191.0 L300.0 189.5 L303.0 191.0 L306.0 190.0 L307.8 190.5 L310.0 191.2M297.0 191.0 L295.0 189.1 L294.0 188.0 L295.1 185.6 L296.0 184.0 L294.1 182.0 L293.0 180.0 L290.9 178.7 L289.0 178.0 L287.4 176.4 L286.0 174.0 L284.1 172.1 L283.0 171.0 L280.9 169.2 L280.0 168.0 L278.0 167.6 L277.0 166.0 L275.8 165.1 L275.0 163.0 L276.0 160.0M279.0 188.0 L278.1 185.8 L277.0 184.0 L278.4 181.7 L279.0 180.0 L278.0 177.8 L277.0 176.0 L277.4 174.6 L278.0 172.0 L276.5 169.9 L276.0 168.0 L277.0 166.0M280.0 168.0 L282.0 167.2 L284.0 167.0 L285.4 166.9 L288.0 166.5 L289.7 166.5 L292.0 167.0 L294.0 168.7 L296.2 170.0M266.2 167.5 L267.0 165.8 L269.0 165.0 L269.9 163.2 L271.0 161.0 L272.6 159.0 L275.0 158.0 L276.7 156.8 L279.0 155.0 L280.6 154.3 L283.0 153.0 L286.0 151.5 L288.5 151.5M271.0 161.0 L274.0 162.5 L276.0 160.0M275.0 138.5 L276.6 137.7 L278.0 136.5 L281.0 137.5 L284.0 136.0 L285.5 138.0 L284.5 140.0 L283.0 141.5 L280.0 142.5 L277.0 143.5 L275.0 141.5 L275.0 138.5M283.0 141.5 L285.0 143.0 L285.5 146.0 L284.0 149.0 L282.0 148.5 L281.0 146.5 L280.5 144.6 L280.0 142.5M296.0 128.0 L297.0 131.0 L299.0 133.5 L298.1 135.6M291.2 65.6 L293.8 63.8 L294.8 66.2 L296.2 67.5 L298.1 70.2 L298.8 71.9 L301.2 73.8 L303.5 73.6 L305.0 72.5 L308.1 71.2 L308.8 73.0 L310.6 74.4 L309.9 76.5 L309.7 78.2 L309.4 80.0 L309.0 82.2 L308.9 84.7 L308.1 86.2 L307.0 89.1 L306.2 91.2 L304.8 93.0 L302.5 95.0 L300.8 96.9 L300.0 98.8 L301.9 100.0 L303.1 101.2M303.1 101.2 L304.9 102.3 L306.2 104.4 L308.3 106.1 L310.0 106.9 L312.9 106.9 L315.0 106.9 L317.7 107.3 L320.0 108.1 L321.3 109.1 L322.7 111.2 L323.8 112.5 L325.4 112.7 L327.5 113.1 L329.7 113.4 L331.2 113.8 L333.7 114.0 L335.0 113.1 L338.1 113.8M303.1 101.2 L302.0 102.6 L300.9 103.6 L299.4 105.6 L299.9 107.9 L300.0 110.6 L301.4 112.1 L302.5 114.4 L304.2 115.7 L306.2 117.5 L307.5 120.6M307.5 120.6 L309.7 121.4 L312.5 122.5 L313.4 123.8 L315.1 125.6 L316.2 126.9 L316.9 130.0 L320.0 130.0" fill="none" stroke="#4a4a4a" stroke-width="0.7" stroke-linejoin="round"/>
<path d="M94.0 119.4 L97.1 115.6 L102.8 114.8 L107.1 117.2 L110.9 114.0 L116.5 113.1 L119.0 114.0 L125.2 113.1 L127.8 110.0 L130.9 106.2 L131.2 100.0 L129.6 96.9 L134.0 96.5 L139.0 97.8 L140.9 95.0 L145.2 87.5 L149.0 89.8 L155.2 90.6 L156.5 85.0 L159.0 83.1 L162.5 80.2 L165.6 81.0 L166.9 85.0 L170.0 88.1 L173.8 91.2 L175.0 95.0 L175.6 99.4 L173.1 103.1 L174.4 105.6 L178.8 107.5 L183.8 108.8 L187.5 111.9 L190.6 115.0 L191.9 119.4 L193.1 122.5 L198.8 123.8 L206.2 125.0 L212.5 125.6 L217.5 127.5 L222.5 130.0 L228.1 132.5 L232.5 130.6 L237.5 128.8 L245.0 127.5 L251.2 126.2 L255.0 123.1 L258.1 119.4 L256.9 116.2 L258.8 113.8 L263.8 114.4 L268.8 112.5 L272.5 109.4 L277.5 105.6 L283.8 103.1 L288.8 101.9 L288.1 99.4 L284.4 95.6 L281.2 95.0 L278.8 96.9 L274.4 96.2 L273.1 94.4 L274.4 92.5 L276.2 86.2 L280.0 85.6 L284.4 83.1 L286.2 78.8 L288.8 72.5 L291.2 69.4 L288.1 67.5 L289.4 64.4 L293.8 61.9 L300.0 60.6 L306.2 61.9 L309.4 65.0 L312.5 70.0 L315.0 75.0 L318.8 80.0 L322.5 81.2 L326.2 82.5 L330.0 85.0 L332.5 89.4 L336.9 90.0 L341.2 86.9 L345.0 83.8 L347.2 82.8 L346.9 87.5 L345.6 92.5 L345.0 97.5 L343.8 103.8 L340.0 104.4 L336.9 107.5 L338.1 113.1 L338.8 116.2 L336.2 120.0 L333.1 119.4 L330.0 122.5 L327.5 125.6 L323.8 126.9 L320.0 130.0 L316.2 133.8 L312.5 136.9 L308.8 140.0 L305.0 141.9 L301.9 145.0 L300.0 145.0 L302.5 141.9 L303.8 137.5 L301.9 135.0 L298.1 135.6 L294.4 138.1 L293.8 141.9 L291.2 143.8 L288.1 145.6 L285.6 147.5 L286.9 150.6 L291.2 151.9 L293.1 153.1 L293.8 155.6 L296.9 155.0 L298.1 151.2 L300.0 152.5 L303.8 153.1 L307.5 154.4 L306.2 157.5 L302.5 160.6 L300.0 163.1 L297.5 165.0 L295.6 165.6 L296.2 170.0 L297.5 171.2 L300.0 175.0 L302.5 180.0 L305.0 183.8 L308.1 186.2 L310.0 191.2 L312.5 193.0 L310.0 195.0 L308.8 198.0 L307.5 200.0 L306.2 205.0 L303.8 209.4 L301.2 213.8 L300.0 217.5 L298.1 221.9 L295.0 225.6 L291.9 228.8 L290.0 231.2 L286.2 234.4 L282.5 236.9 L280.0 237.5 L275.0 240.0 L270.0 242.5 L266.2 245.0 L261.2 246.2 L257.5 247.5 L253.8 248.1 L252.0 247.3 L251.6 250.0 L252.2 253.0 L250.2 253.6 L248.8 249.5 L248.1 245.6 L246.2 244.4 L243.1 244.4 L240.6 245.6 L237.5 244.4 L234.4 241.9 L232.5 238.8 L228.8 236.2 L226.2 235.6 L222.5 236.9 L218.8 237.5 L215.0 238.8 L211.2 238.1 L208.1 240.0 L206.9 242.5 L206.9 246.2 L204.4 246.2 L203.1 243.8 L200.0 242.5 L197.5 240.0 L195.0 238.8 L194.4 235.6 L193.1 231.2 L191.2 228.1 L188.1 228.1 L186.2 226.9 L188.1 222.5 L191.2 218.8 L193.1 215.0 L193.8 210.0 L192.5 205.6 L190.0 203.1 L186.9 205.6 L182.5 203.1 L177.5 203.8 L172.5 205.6 L168.8 207.5 L163.8 207.5 L160.6 205.6 L157.5 201.2 L153.1 200.0 L148.8 199.4 L146.2 202.5 L143.8 198.8 L138.8 198.1 L133.8 196.2 L130.6 193.1 L127.5 190.6 L125.0 187.5 L121.9 185.6 L118.8 182.5 L115.6 179.4 L112.5 178.1 L110.6 175.6 L107.5 173.1 L104.4 170.0 L103.1 166.2 L103.8 162.5 L106.2 161.2 L106.9 156.9 L108.8 153.8 L107.1 150.0 L106.5 146.9 L103.4 143.8 L100.2 140.6 L99.0 137.5 L97.1 134.4 L95.2 131.9 L97.1 128.8 L97.1 125.0 L94.6 122.5Z" fill="none" stroke="#4a4a4a" stroke-width="0.9" stroke-linejoin="round"/>
<path d="M310.0 195.0 L308.8 198.0 L307.5 200.0 L306.2 205.0 L303.8 209.4 L301.2 213.8 L300.0 217.5 L298.1 221.9 L295.0 225.6 L291.9 228.8 L290.0 231.2 L286.2 234.4 L282.5 236.9 L280.0 237.5 L275.0 240.0 L270.0 242.5 L266.2 245.0 L261.2 246.2" fill="none" stroke="#2e2e2e" stroke-width="1.35" stroke-dasharray="4 1.5 2 1 6 2"/>
<path d="M310.0 221.2 L311.9 223.1 L311.9 227.5 L310.6 232.5 L309.4 236.9 L308.1 240.0 L305.6 238.1 L303.5 233.8 L304.4 229.4 L306.9 224.4Z" fill="#fff" stroke="#4a4a4a" stroke-width="0.7"/>
<path d="M249.4 255.0 L253.8 254.4 L256.2 255.6 L254.4 259.4 L251.9 262.5 L248.8 265.0 L245.0 263.8 L243.1 260.6 L244.4 257.5 L246.9 255.6Z" fill="#fff" stroke="#4a4a4a" stroke-width="0.8"/>
<circle cx="313" cy="220.5" r="0.6" fill="#888"/>
<circle cx="318" cy="217" r="0.6" fill="#888"/>
<circle cx="302.5" cy="241" r="0.6" fill="#888"/>
<circle cx="305" cy="244" r="0.6" fill="#888"/>
<circle cx="300.5" cy="232" r="0.6" fill="#888"/>
<circle cx="244" cy="250" r="0.6" fill="#888"/>
<circle cx="260.5" cy="274.5" r="0.55" fill="#a5a5a5"/>
<circle cx="263" cy="272.5" r="0.55" fill="#a5a5a5"/>
<circle cx="265.5" cy="273.5" r="0.55" fill="#a5a5a5"/>
<circle cx="258" cy="277" r="0.55" fill="#a5a5a5"/>
<circle cx="295" cy="281" r="0.55" fill="#a5a5a5"/>
<circle cx="276.5" cy="304" r="0.55" fill="#a5a5a5"/>
<circle cx="277" cy="309" r="0.55" fill="#a5a5a5"/>
<circle cx="285" cy="307.5" r="0.55" fill="#a5a5a5"/>
<circle cx="277.5" cy="312.5" r="0.55" fill="#a5a5a5"/>
<circle cx="268" cy="320" r="0.55" fill="#a5a5a5"/>
<circle cx="263.5" cy="321" r="0.55" fill="#a5a5a5"/>
<circle cx="272" cy="319" r="0.55" fill="#a5a5a5"/>
<circle cx="270.5" cy="324" r="0.55" fill="#a5a5a5"/>
<circle cx="273" cy="325" r="0.55" fill="#a5a5a5"/>
<circle cx="272.5" cy="330" r="0.55" fill="#a5a5a5"/>
<circle cx="265" cy="323" r="0.55" fill="#a5a5a5"/>
<rect x="322.5" y="228.2" width="21.5" height="32" fill="#fff" stroke="#a8a8a8" stroke-width="0.7"/>
<path d="M322.8 228.5h16l-4 2.5l-6 1.2l-4 -0.6z" fill="#f0f0f0" stroke="#aaa" stroke-width="0.5"/>
<path d="M328 233 L326.5 238 L328.5 243 L326 249 L327.5 254 M341.5 231 L340 237 L339 243 L336 249 L332.5 254 L330 257.5 M339 229 l3 2" fill="none" stroke="#9a9a9a" stroke-width="0.8" stroke-dasharray="3 2.5"/>
<rect x="266" y="122" width="27" height="44.3" fill="none" stroke="#262626" stroke-width="1.55" stroke-dasharray="6 2.4"/>
<rect x="295" y="169.8" width="17.2" height="39.3" fill="none" stroke="#262626" stroke-width="1.55" stroke-dasharray="6 2.4"/>
<rect x="259.6" y="234.6" width="22.6" height="12.2" fill="none" stroke="#262626" stroke-width="1.55" stroke-dasharray="6 2.4"/>
<path d="M420.0 21.5 L423.8 24.5 L424.5 29.0 L429.0 28.2 L433.5 25.2 L436.5 24.5 L439.5 26.0 L444.0 22.2 L448.5 19.2 L449.2 15.5 L454.5 14.0 L458.2 11.8 L462.8 14.8 L465.0 18.5 L465.8 24.5 L465.0 29.0 L469.5 32.8 L474.0 32.0 L477.8 32.8 L475.5 37.2 L476.2 41.8 L480.0 44.0 L483.8 46.2 L486.8 50.0 L487.5 52.0 L486.0 54.0 L482.2 57.0 L480.0 61.5 L479.2 66.0 L475.5 68.2 L470.2 69.8 L465.8 66.8 L462.8 69.8 L461.2 74.2 L458.2 78.8 L460.5 82.5 L462.8 86.2 L461.2 89.4 L457.5 91.9 L452.5 93.1 L448.8 95.0 L446.2 98.8 L443.1 101.9 L440.0 105.0 L437.5 108.8 L436.2 111.9 L435.6 115.0 L433.8 118.1 L435.6 121.2 L431.2 120.0 L428.8 122.5 L423.8 121.2 L418.8 119.4 L413.8 118.1 L410.6 116.2 L408.8 113.1 L410.0 110.0 L412.5 107.5 L413.1 103.8 L415.0 99.4 L417.5 96.9 L415.0 92.5 L411.9 88.8 L408.8 84.8 L411.0 81.0 L414.0 78.8 L412.5 75.0 L414.8 71.2 L418.5 69.0 L422.2 64.5 L421.0 61.5 L415.8 59.5 L414.5 55.5 L417.0 52.0 L415.5 48.5 L414.0 44.0 L411.8 39.5 L412.5 34.2 L414.8 29.8 L417.8 25.2Z" fill="#e0e0e0"/>
<g clip-path="url(#cj)">
<path d="M440.2 51.0C441.3 49.8 443.0 47.9 445.0 47.5C447.0 47.1 450.2 47.7 452.0 48.5C453.8 49.3 454.8 52.2 456.0 52.5C457.2 52.8 457.8 51.2 459.0 50.5C460.2 49.8 461.2 49.0 463.0 48.5C464.8 48.0 467.8 47.5 470.0 47.5C472.2 47.5 474.4 47.9 476.0 48.5C477.6 49.1 478.6 50.0 479.5 51.0C480.4 52.0 481.2 53.3 481.5 54.5C481.8 55.7 481.2 56.9 481.0 58.0C480.8 59.1 478.5 60.0 480.0 61.0C481.5 62.0 488.3 53.3 490.0 64.0C491.7 74.7 505.0 114.8 490.0 125.0C475.0 135.2 415.0 131.4 400.0 125.0C385.0 118.6 398.5 93.1 400.0 86.7C401.5 80.3 407.0 87.1 408.8 86.7C410.6 86.3 409.4 85.0 410.7 84.3C412.0 83.6 414.7 83.1 416.4 82.4C418.1 81.7 419.5 80.9 421.1 80.0C422.7 79.1 424.5 78.3 425.9 77.2C427.3 76.1 428.4 74.7 429.7 73.4C431.0 72.1 432.4 70.9 433.5 69.6C434.6 68.3 435.6 67.4 436.3 65.8C437.0 64.2 437.1 61.8 437.5 60.0C437.9 58.2 438.0 56.5 438.5 55.0C439.0 53.5 439.2 52.2 440.2 51.0Z" fill="#bed1fd"/>
<path d="M404.0 108.0C405.4 106.4 410.9 107.8 412.5 108.5C414.1 109.2 413.5 110.6 413.6 112.0C413.7 113.4 414.6 115.8 413.0 116.8C411.4 117.8 405.5 119.5 404.0 118.0C402.5 116.5 402.6 109.6 404.0 108.0Z" fill="#e0e0e0"/>
<path d="M410.0 99.0C411.1 97.8 415.3 98.8 416.5 99.5C417.7 100.2 417.5 101.7 417.4 103.0C417.3 104.3 417.2 106.8 416.0 107.5C414.8 108.2 411.0 108.4 410.0 107.0C409.0 105.6 408.9 100.2 410.0 99.0Z" fill="#e0e0e0"/>
<path d="M440.4 51.2C441.0 50.4 442.4 50.1 443.5 50.0C444.6 49.9 446.2 50.1 447.3 50.4C448.4 50.7 449.5 51.3 450.4 51.9C451.3 52.5 452.1 53.4 452.7 54.2C453.3 55.0 453.9 55.6 454.2 56.5C454.5 57.4 454.7 58.8 454.6 59.6C454.5 60.4 454.2 61.0 453.5 61.5C452.8 62.0 451.3 62.4 450.4 62.7C449.5 63.0 448.9 63.2 448.1 63.5C447.3 63.8 446.6 64.2 445.8 64.2C445.0 64.2 444.1 64.0 443.5 63.5C442.9 63.0 442.3 62.1 441.9 61.2C441.4 60.3 441.1 59.1 440.8 58.1C440.5 57.1 440.1 56.1 440.0 55.0C439.9 53.9 439.8 52.0 440.4 51.2Z" fill="#76b0fc"/>
<path d="M460.4 54.2C461.0 53.3 462.4 52.1 463.5 51.2C464.6 50.3 466.0 49.1 467.3 48.8C468.6 48.5 470.1 49.1 471.2 49.6C472.3 50.1 473.6 51.0 474.2 51.9C474.8 52.8 474.9 53.9 475.0 55.0C475.1 56.1 474.9 57.5 474.6 58.8C474.4 60.1 474.1 61.7 473.5 62.7C472.9 63.7 472.1 64.5 471.2 65.0C470.3 65.5 469.0 65.8 468.1 65.8C467.2 65.8 466.6 65.5 465.8 65.0C465.0 64.5 464.3 63.6 463.5 62.7C462.7 61.8 461.8 60.6 461.2 59.6C460.6 58.6 460.1 57.4 460.0 56.5C459.9 55.6 459.8 55.1 460.4 54.2Z" fill="#76b0fc"/>
<path d="M445.8 64.5C446.6 63.8 448.5 63.5 450.0 63.5C451.5 63.5 453.3 64.2 455.0 64.5C456.7 64.8 458.5 65.1 460.0 65.5C461.5 65.9 463.0 66.2 464.0 67.0C465.0 67.8 466.0 68.9 465.8 70.0C465.6 71.1 464.0 72.5 463.0 73.5C462.0 74.5 461.2 75.3 460.0 76.0C458.8 76.7 457.3 77.3 456.0 77.5C454.7 77.7 453.2 77.5 452.0 77.0C450.8 76.5 449.9 75.5 449.0 74.5C448.1 73.5 447.2 72.2 446.5 71.0C445.8 69.8 445.1 68.6 445.0 67.5C444.9 66.4 445.0 65.2 445.8 64.5Z" fill="#76b0fc"/>
<ellipse cx="433.3" cy="76.3" rx="3.8" ry="3.4" transform="rotate(-25 433.3 76.3)" fill="#76b0fc"/>
<path d="M414.0 87.6C414.3 86.5 415.9 85.4 417.3 84.8C418.7 84.2 420.5 83.7 422.1 83.8C423.7 83.9 425.2 84.7 426.8 85.3C428.4 85.9 430.6 86.6 431.6 87.6C432.6 88.6 433.0 90.3 433.0 91.4C433.0 92.5 432.5 93.5 431.6 94.3C430.7 95.1 429.1 95.6 427.8 96.2C426.5 96.8 425.1 97.9 424.0 98.1C422.9 98.2 422.1 97.7 421.1 97.1C420.2 96.5 419.2 95.2 418.3 94.3C417.4 93.3 416.1 92.5 415.4 91.4C414.7 90.3 413.7 88.7 414.0 87.6Z" fill="#76b0fc"/>
<ellipse cx="452" cy="82.2" rx="3" ry="3.2" transform="rotate(0 452 82.2)" fill="#76b0fc"/>
<ellipse cx="441.5" cy="79" rx="1.6" ry="3.2" transform="rotate(0 441.5 79)" fill="#76b0fc"/>
<path d="M421.1 103.2C421.7 102.8 423.1 102.1 423.8 102.5C424.4 102.9 424.9 104.4 425.2 105.5C425.6 106.6 425.4 108.1 425.6 109.2C425.9 110.4 426.6 111.0 426.8 112.2C426.9 113.5 426.7 115.5 426.4 116.8C426.1 118.0 425.5 119.1 424.9 119.8C424.3 120.4 423.4 120.6 422.6 120.5C421.9 120.4 421.0 119.9 420.4 119.0C419.8 118.1 419.4 116.5 419.2 115.2C419.1 114.0 419.4 112.6 419.6 111.5C419.9 110.4 420.6 109.5 420.8 108.5C420.9 107.5 420.3 106.4 420.4 105.5C420.5 104.6 420.5 103.8 421.1 103.2Z" fill="#76b0fc"/>
<path d="M442.3 53.8C442.8 53.2 444.7 53.2 445.4 53.5C446.1 53.8 446.2 54.9 446.5 55.8C446.8 56.7 447.0 58.0 446.9 58.8C446.8 59.6 446.4 60.2 445.8 60.4C445.2 60.6 444.1 60.5 443.5 60.0C442.9 59.5 442.5 58.3 442.3 57.3C442.1 56.3 441.8 54.4 442.3 53.8Z" fill="#0668fb"/>
<path d="M464.6 58.8C464.9 58.1 465.7 57.5 466.5 57.3C467.3 57.1 468.4 57.3 469.2 57.7C470.0 58.1 470.9 58.9 471.2 59.6C471.5 60.3 471.2 61.2 470.8 61.9C470.4 62.6 469.5 63.5 468.8 63.8C468.1 64.1 467.1 63.9 466.5 63.5C465.9 63.1 465.3 62.3 465.0 61.5C464.7 60.7 464.4 59.5 464.6 58.8Z" fill="#0668fb"/>
<path d="M451.5 68.8C451.9 68.0 453.4 67.0 454.2 66.9C455.0 66.8 455.7 67.6 456.5 68.1C457.3 68.5 458.0 69.5 458.8 69.6C459.6 69.7 460.7 68.5 461.2 68.8C461.7 69.1 462.2 70.4 461.9 71.2C461.6 72.0 460.5 73.0 459.6 73.5C458.7 74.0 457.5 74.2 456.5 74.2C455.5 74.2 454.3 74.0 453.5 73.5C452.7 73.0 452.2 72.3 451.9 71.5C451.6 70.7 451.1 69.6 451.5 68.8Z" fill="#0668fb"/>
<path d="M415.4 87.6C415.8 86.9 417.1 86.1 418.3 85.7C419.5 85.3 421.4 85.0 422.6 85.3C423.8 85.5 424.8 86.3 425.4 87.2C426.0 88.1 426.5 89.4 426.4 90.5C426.3 91.6 425.6 93.0 424.9 93.8C424.2 94.6 422.9 95.3 422.1 95.2C421.3 95.1 420.8 94.0 420.2 93.3C419.6 92.6 419.0 91.5 418.3 91.0C417.6 90.5 416.4 90.6 415.9 90.0C415.4 89.4 415.0 88.3 415.4 87.6Z" fill="#0668fb"/>
<ellipse cx="423" cy="114.5" rx="1.1" ry="1.5" transform="rotate(0 423 114.5)" fill="#0668fb"/>
<ellipse cx="422" cy="88.6" rx="1.3" ry="1.8" transform="rotate(0 422 88.6)" fill="#044aae"/>

</g>
<path d="M436.5 24.5 L437.2 30.5 L440.2 35.0 L442.5 40.2 L438.8 44.8 L435.8 48.5 L434.2 54.5 L432.8 59.0 L430.5 62.8 L426.0 63.0 L422.2 64.5M442.5 40.2 L445.5 38.8 L448.5 41.8 L453.0 43.2 L456.8 45.5 L456.0 50.0 L454.5 53.0 L456.0 57.0 L453.0 60.0 L455.0 63.0 L452.0 66.0 L448.0 66.5 L444.0 64.0 L440.0 66.0 L436.0 64.0 L434.2 60.0M456.0 50.0 L459.0 52.2 L463.5 49.2 L468.0 47.8 L472.5 47.0 L476.2 44.0M459.0 52.2 L458.0 57.0 L460.5 61.0 L459.0 65.0 L462.8 69.8M452.0 66.0 L452.0 70.0 L449.0 73.0 L451.0 77.0 L448.0 80.0 L450.0 84.0 L454.0 82.0 L458.2 78.8M476.0 46.0 L478.0 50.0 L476.0 55.0 L479.0 60.0 L480.0 61.5M440.0 66.0 L441.0 71.0 L438.0 76.0 L440.0 80.0 L437.0 84.0 L433.0 87.0 L436.0 91.0 L440.0 96.0 L444.0 100.0M414.0 78.8 L420.0 78.0 L426.0 80.0 L431.0 83.0 L433.0 87.0M433.0 87.0 L430.0 92.0 L431.0 97.0 L426.0 99.0 L421.0 97.0 L417.5 96.9M431.0 97.0 L436.0 100.0 L440.0 105.0M412.5 107.5 L416.2 108.9 L420.8 110.0 L425.2 108.1 L429.0 107.4 L433.5 108.9 L436.5 110.0M448.0 80.0 L444.0 84.0 L447.0 89.0 L444.0 93.0 L446.2 98.8" fill="none" stroke="#3d3d3d" stroke-width="0.75" stroke-linejoin="round"/>
<path d="M420.0 21.5 L423.8 24.5 L424.5 29.0 L429.0 28.2 L433.5 25.2 L436.5 24.5 L439.5 26.0 L444.0 22.2 L448.5 19.2 L449.2 15.5 L454.5 14.0 L458.2 11.8 L462.8 14.8 L465.0 18.5 L465.8 24.5 L465.0 29.0 L469.5 32.8 L474.0 32.0 L477.8 32.8 L475.5 37.2 L476.2 41.8 L480.0 44.0 L483.8 46.2 L486.8 50.0 L487.5 52.0 L486.0 54.0 L482.2 57.0 L480.0 61.5 L479.2 66.0 L475.5 68.2 L470.2 69.8 L465.8 66.8 L462.8 69.8 L461.2 74.2 L458.2 78.8 L460.5 82.5 L462.8 86.2 L461.2 89.4 L457.5 91.9 L452.5 93.1 L448.8 95.0 L446.2 98.8 L443.1 101.9 L440.0 105.0 L437.5 108.8 L436.2 111.9 L435.6 115.0 L433.8 118.1 L435.6 121.2 L431.2 120.0 L428.8 122.5 L423.8 121.2 L418.8 119.4 L413.8 118.1 L410.6 116.2 L408.8 113.1 L410.0 110.0 L412.5 107.5 L413.1 103.8 L415.0 99.4 L417.5 96.9 L415.0 92.5 L411.9 88.8 L408.8 84.8 L411.0 81.0 L414.0 78.8 L412.5 75.0 L414.8 71.2 L418.5 69.0 L422.2 64.5 L421.0 61.5 L415.8 59.5 L414.5 55.5 L417.0 52.0 L415.5 48.5 L414.0 44.0 L411.8 39.5 L412.5 34.2 L414.8 29.8 L417.8 25.2Z" fill="none" stroke="#a8a8a8" stroke-width="0.8" stroke-linejoin="round"/>
<path d="M421.2 141.5 L424.2 140.0 L431.0 140.8 L436.2 141.5 L439.2 145.2 L440.0 149.8 L446.0 149.8 L452.8 150.5 L458.0 152.8 L461.8 155.8 L464.8 159.5 L470.0 162.5 L472.2 167.0 L471.5 170.8 L468.5 172.2 L465.5 171.5 L470.0 176.0 L473.0 179.8 L473.8 183.5 L471.5 187.2 L467.8 189.5 L463.8 191.9 L460.0 195.6 L456.2 198.8 L453.1 201.2 L451.5 203.2 L455.0 205.0 L458.8 203.8 L462.5 200.6 L467.5 200.0 L472.5 202.5 L476.2 206.2 L480.0 208.1 L480.0 211.9 L478.1 216.2 L480.0 220.0 L477.5 223.8 L473.8 225.0 L472.0 226.5 L475.2 230.5 L473.8 235.0 L473.0 239.5 L474.5 243.2 L471.5 246.2 L469.2 249.2 L467.0 247.0 L464.8 243.2 L461.0 241.0 L455.8 240.2 L451.2 241.0 L449.8 237.2 L452.8 233.5 L455.0 229.0 L457.2 225.2 L459.8 222.2 L456.5 220.0 L452.0 218.5 L447.5 219.2 L443.0 217.8 L440.0 215.5 L437.0 217.8 L433.2 220.8 L429.5 223.8 L425.0 226.8 L421.2 226.0 L416.8 227.5 L415.2 225.2 L411.5 222.2 L414.5 219.2 L417.5 214.8 L419.8 210.2 L419.0 205.8 L422.0 203.5 L427.2 202.0 L425.0 199.0 L427.2 197.0 L429.5 192.5 L431.0 188.0 L429.5 184.2 L424.2 183.5 L419.0 184.2 L414.5 182.8 L416.0 178.2 L413.8 175.2 L411.5 172.2 L407.8 170.0 L404.8 166.2 L407.8 162.5 L409.2 158.8 L410.0 155.0 L413.8 154.2 L419.0 154.2 L421.2 151.2 L422.0 146.0Z" fill="#e0e0e0"/>
<g clip-path="url(#cy)">
<path d="M400.0 135.0C406.7 124.2 433.3 132.5 440.0 135.0C446.7 137.5 437.9 147.3 440.0 150.0C442.1 152.7 449.5 149.9 452.8 151.0C456.0 152.1 458.0 154.6 459.5 156.5C461.0 158.4 461.8 161.0 461.8 162.5C461.8 164.0 459.6 164.2 459.5 165.5C459.4 166.8 459.2 168.1 461.0 170.0C462.8 171.9 468.1 174.5 470.0 176.8C471.9 179.0 472.2 181.8 472.2 183.5C472.2 185.2 471.0 185.9 470.0 187.0C469.0 188.1 467.3 188.8 466.0 190.0C464.7 191.2 463.3 192.7 462.0 194.0C460.7 195.3 459.5 196.8 458.0 198.0C456.5 199.2 454.1 200.4 453.1 201.2C452.1 202.1 451.6 202.5 451.9 203.1C452.2 203.7 453.9 204.5 455.0 205.0C456.1 205.5 458.3 205.2 458.8 206.2C459.2 207.3 458.4 210.1 457.5 211.2C456.6 212.4 454.5 212.4 453.1 213.1C451.8 213.8 450.5 214.8 449.4 215.6C448.3 216.4 447.4 218.0 446.2 218.1C445.1 218.2 443.6 216.9 442.5 216.2C441.4 215.6 440.4 214.4 439.4 214.4C438.4 214.4 437.4 215.6 436.2 216.2C435.1 216.9 433.4 218.6 432.5 218.1C431.6 217.6 431.3 214.3 430.6 213.1C429.9 211.8 428.6 211.6 428.1 210.6C427.6 209.6 427.2 208.0 427.5 206.9C427.8 205.8 430.2 204.6 430.0 203.8C429.8 202.9 431.0 202.6 426.0 202.0C421.0 201.4 404.3 211.2 400.0 200.0C395.7 188.8 393.3 145.8 400.0 135.0Z" fill="#bed1fd"/>
<path d="M460.0 203.8C460.5 202.9 462.3 201.6 463.8 201.2C465.2 200.9 467.3 201.3 468.8 201.9C470.2 202.5 471.6 203.8 472.5 205.0C473.4 206.2 474.3 208.1 474.4 209.4C474.5 210.8 473.9 212.3 473.1 213.1C472.3 213.9 470.5 214.5 469.4 214.4C468.3 214.3 467.3 213.3 466.2 212.5C465.2 211.7 464.0 210.4 463.1 209.4C462.2 208.4 461.1 207.2 460.6 206.2C460.1 205.3 459.5 204.6 460.0 203.8Z" fill="#bed1fd"/>
<path d="M408.8 154.4C409.3 153.6 412.1 153.4 413.8 153.8C415.4 154.1 417.6 155.0 418.8 156.2C419.9 157.5 420.4 159.5 420.6 161.2C420.8 163.0 420.3 165.4 420.0 166.9C419.7 168.4 419.6 169.0 418.8 170.0C417.9 171.0 416.1 172.8 415.0 173.1C413.9 173.4 412.8 172.5 411.9 171.9C411.0 171.3 410.2 170.0 409.4 169.4C408.6 168.8 407.3 168.8 406.9 168.1C406.5 167.4 406.6 165.9 406.9 165.0C407.2 164.1 408.1 163.5 408.8 162.5C409.4 161.5 410.6 160.1 410.6 158.8C410.6 157.4 408.2 155.2 408.8 154.4Z" fill="#76b0fc"/>
<path d="M418.8 156.2C419.1 155.0 421.0 154.3 422.5 153.8C424.0 153.2 426.0 153.0 427.5 153.1C429.0 153.2 430.1 153.9 431.2 154.4C432.4 154.9 433.1 155.7 434.4 156.2C435.6 156.8 437.4 156.9 438.8 157.5C440.1 158.1 441.2 159.4 442.5 160.0C443.8 160.6 445.0 160.9 446.2 161.2C447.5 161.6 448.8 161.7 450.0 161.9C451.2 162.1 452.8 162.2 453.8 162.5C454.7 162.8 455.8 163.6 455.6 164.0C455.4 164.4 453.9 164.8 452.5 164.8C451.1 164.8 449.0 164.0 447.5 164.0C446.0 164.0 443.8 164.4 443.8 164.8C443.8 165.1 446.0 165.8 447.5 166.2C449.0 166.7 451.0 167.0 452.5 167.5C454.0 168.0 455.1 168.6 456.2 169.4C457.4 170.2 458.4 171.6 459.4 172.5C460.4 173.4 461.5 174.3 462.5 175.0C463.5 175.7 464.7 176.1 465.6 176.9C466.5 177.7 467.3 179.1 467.8 180.0C468.2 180.9 468.6 181.8 468.1 182.5C467.6 183.2 466.1 184.1 465.0 184.4C463.9 184.7 462.3 184.7 461.2 184.4C460.2 184.1 459.3 182.4 458.5 182.5C457.7 182.6 457.2 184.3 456.2 185.0C455.2 185.7 453.8 186.7 452.5 186.9C451.2 187.1 449.8 186.7 448.8 186.2C447.7 185.8 447.3 185.0 446.2 184.4C445.2 183.8 443.8 183.0 442.5 182.5C441.2 182.0 440.0 181.7 438.8 181.2C437.5 180.8 436.2 180.3 435.0 180.0C433.8 179.7 432.2 179.8 431.2 179.4C430.2 179.0 429.7 178.6 429.0 177.8C428.3 176.9 427.6 175.5 426.9 174.4C426.2 173.3 425.7 172.2 425.0 171.2C424.3 170.3 423.3 169.4 422.5 168.8C421.7 168.1 420.3 168.8 420.0 167.5C419.7 166.2 420.8 163.1 420.6 161.2C420.4 159.4 418.4 157.5 418.8 156.2Z" fill="#76b0fc"/>
<path d="M435.0 200.0C435.7 198.9 437.5 197.8 438.8 196.9C440.0 196.0 441.1 194.6 442.5 194.4C443.9 194.2 445.6 194.9 446.9 195.6C448.1 196.3 449.0 197.8 450.0 198.8C451.0 199.7 452.8 200.4 453.1 201.2C453.4 202.1 451.7 202.8 451.9 203.8C452.1 204.7 454.3 206.0 454.4 206.9C454.5 207.8 453.4 208.9 452.5 209.4C451.6 209.9 450.0 209.6 448.8 210.0C447.5 210.4 446.2 211.4 445.0 211.9C443.8 212.4 442.4 213.3 441.2 213.1C440.1 212.9 439.0 211.5 438.1 210.6C437.2 209.7 436.2 208.6 435.6 207.5C435.0 206.4 434.5 205.0 434.4 203.8C434.3 202.5 434.3 201.1 435.0 200.0Z" fill="#76b0fc"/>
<path d="M433.8 172.1C433.9 171.7 435.3 171.0 436.2 170.5C437.2 170.0 438.7 169.9 439.4 169.2C440.1 168.6 439.7 167.1 440.3 166.8C440.9 166.4 442.2 166.7 443.1 167.1C444.0 167.5 444.8 168.2 445.6 168.9C446.4 169.6 447.2 170.7 447.8 171.4C448.4 172.1 448.5 172.9 449.1 173.3C449.7 173.7 450.6 173.2 451.2 173.6C451.9 174.0 453.0 174.9 453.1 175.5C453.2 176.1 452.5 176.9 451.9 177.4C451.3 177.9 450.2 178.5 449.4 178.6C448.6 178.7 447.6 178.4 446.9 178.0C446.2 177.6 445.7 176.9 445.0 176.4C444.3 175.9 443.2 175.5 442.5 174.9C441.8 174.3 441.3 173.4 440.6 173.0C439.9 172.6 439.2 172.7 438.4 172.7C437.6 172.7 436.4 173.1 435.6 173.0C434.8 172.9 433.6 172.5 433.8 172.1Z" fill="#0668fb"/>
<ellipse cx="413.8" cy="161.5" rx="1.8" ry="1.6" transform="rotate(0 413.8 161.5)" fill="#0668fb"/>
<ellipse cx="414" cy="167.5" rx="2.2" ry="2" transform="rotate(0 414 167.5)" fill="#0668fb"/>
<path d="M437.8 200.6C438.2 199.4 439.5 198.1 440.6 197.5C441.7 196.9 443.2 196.6 444.4 196.9C445.5 197.2 446.9 198.4 447.5 199.4C448.1 200.4 448.2 202.0 448.1 203.1C448.0 204.2 447.7 205.4 446.9 206.2C446.1 207.1 444.2 208.0 443.1 208.1C442.0 208.2 440.8 207.5 440.0 206.9C439.2 206.3 438.5 205.5 438.1 204.4C437.7 203.3 437.3 201.8 437.8 200.6Z" fill="#0668fb"/>
<ellipse cx="442" cy="200" rx="2.2" ry="1.8" transform="rotate(0 442 200)" fill="#044aae"/>
<path d="M440.5 166.5L443 165L445.6 163.3L450 163.6L452.5 166.1L456.25 168L460 169.9L463.75 172.4L467 174L473 175.5" fill="none" stroke="#f8f5ee" stroke-width="1.9" stroke-linejoin="round" stroke-linecap="round"/><path d="M461.75 162.5 L466 164.5 L470 167.5 L474 170 L474 160 L464 156Z" fill="#ececec"/>
</g>
<path d="M428.0 140.5 L430.0 146.0 L433.0 151.0 L435.0 156.0 L434.0 161.0 L437.0 166.0 L436.0 171.0 L432.0 175.0 L431.0 180.0 L429.5 184.2M440.0 149.8 L441.0 155.0 L443.5 160.0 L445.4 163.0M419.0 154.2 L421.0 159.0 L420.0 164.0 L423.0 169.0 L421.0 174.0 L424.0 179.0 L424.2 183.5M421.0 159.0 L428.0 158.0 L434.0 161.0M436.0 171.0 L441.0 173.0 L445.0 177.0 L443.0 181.0 L438.0 184.0 L435.0 188.0 L431.0 188.0M445.0 177.0 L450.0 176.0 L455.0 178.0 L458.0 182.0 L455.0 187.0 L450.0 190.0 L446.0 194.0 L443.0 198.0 L440.0 201.0 L436.0 203.0M458.0 182.0 L462.0 180.0 L466.0 178.0 L470.0 176.0M455.0 187.0 L459.0 190.0 L462.0 194.0M427.2 202.0 L432.0 203.0 L436.0 203.0 L440.0 206.0 L444.0 209.0 L447.0 212.0 L445.0 215.0 L440.0 215.5M447.0 203.5 L444.0 206.0 L444.0 209.0M459.8 222.2 L461.0 216.0 L459.0 210.0 L458.0 205.0M459.8 222.2 L464.0 224.0 L468.0 223.0 L473.0 226.8" fill="none" stroke="#3d3d3d" stroke-width="0.75" stroke-linejoin="round"/>
<path d="M421.2 141.5 L424.2 140.0 L431.0 140.8 L436.2 141.5 L439.2 145.2 L440.0 149.8 L446.0 149.8 L452.8 150.5 L458.0 152.8 L461.8 155.8 L464.8 159.5 L470.0 162.5 L472.2 167.0 L471.5 170.8 L468.5 172.2 L465.5 171.5 L470.0 176.0 L473.0 179.8 L473.8 183.5 L471.5 187.2 L467.8 189.5 L463.8 191.9 L460.0 195.6 L456.2 198.8 L453.1 201.2 L451.5 203.2 L455.0 205.0 L458.8 203.8 L462.5 200.6 L467.5 200.0 L472.5 202.5 L476.2 206.2 L480.0 208.1 L480.0 211.9 L478.1 216.2 L480.0 220.0 L477.5 223.8 L473.8 225.0 L472.0 226.5 L475.2 230.5 L473.8 235.0 L473.0 239.5 L474.5 243.2 L471.5 246.2 L469.2 249.2 L467.0 247.0 L464.8 243.2 L461.0 241.0 L455.8 240.2 L451.2 241.0 L449.8 237.2 L452.8 233.5 L455.0 229.0 L457.2 225.2 L459.8 222.2 L456.5 220.0 L452.0 218.5 L447.5 219.2 L443.0 217.8 L440.0 215.5 L437.0 217.8 L433.2 220.8 L429.5 223.8 L425.0 226.8 L421.2 226.0 L416.8 227.5 L415.2 225.2 L411.5 222.2 L414.5 219.2 L417.5 214.8 L419.8 210.2 L419.0 205.8 L422.0 203.5 L427.2 202.0 L425.0 199.0 L427.2 197.0 L429.5 192.5 L431.0 188.0 L429.5 184.2 L424.2 183.5 L419.0 184.2 L414.5 182.8 L416.0 178.2 L413.8 175.2 L411.5 172.2 L407.8 170.0 L404.8 166.2 L407.8 162.5 L409.2 158.8 L410.0 155.0 L413.8 154.2 L419.0 154.2 L421.2 151.2 L422.0 146.0Z" fill="none" stroke="#a8a8a8" stroke-width="0.8" stroke-linejoin="round"/>
<path d="M421.0 262.0 L424.0 266.0 L427.0 272.0 L430.0 278.0 L434.0 283.0 L436.0 285.0 L441.0 283.0 L445.0 279.0 L449.0 276.0 L453.0 277.0 L454.5 274.4 L457.1 271.8 L461.0 269.9 L464.9 270.5 L468.2 269.2 L471.4 271.2 L474.0 274.4 L477.9 277.0 L480.5 280.9 L483.8 283.5 L486.4 286.1 L489.6 283.5 L493.5 281.6 L498.1 282.9 L496.8 286.1 L493.5 288.7 L490.9 292.0 L488.3 295.2 L489.0 299.1 L487.0 302.4 L484.4 301.7 L483.8 298.5 L481.2 296.5 L478.6 298.5 L476.0 297.2 L477.3 301.1 L479.2 303.0 L478.6 306.3 L476.0 305.6 L474.0 302.4 L471.4 304.3 L468.8 306.9 L466.2 309.5 L463.5 311.2 L461.0 307.0 L458.0 303.0 L456.0 299.0 L454.0 296.0 L452.5 299.0 L453.5 304.0 L455.0 309.0 L457.0 315.0 L454.0 318.0 L451.0 316.0 L450.0 321.0 L444.0 322.0 L438.0 325.0 L433.0 330.0 L429.0 327.0 L424.0 322.0 L419.0 319.0 L421.0 314.0 L426.0 309.0 L430.0 305.0 L426.0 303.0 L424.0 298.0 L419.0 296.0 L413.0 295.0 L406.0 294.0 L400.0 292.0 L402.0 286.0 L404.0 280.0 L409.0 277.0 L410.0 271.0 L413.0 267.0 L418.0 265.0Z" fill="#e0e0e0"/>
<g clip-path="url(#cp)">
<path d="M428.2 289.5C429.1 288.0 431.1 285.2 432.8 284.2C434.4 283.2 436.1 284.1 438.0 283.5C439.9 282.9 442.0 281.4 444.0 280.5C446.0 279.6 448.1 278.5 450.0 278.2C451.9 278.0 453.8 278.2 455.2 279.0C456.8 279.8 458.1 281.5 459.0 282.8C459.9 284.0 459.5 285.5 460.5 286.5C461.5 287.5 463.2 288.5 465.0 288.8C466.8 289.0 469.1 287.8 471.0 288.0C472.9 288.2 475.1 289.1 476.2 290.2C477.4 291.4 477.9 293.2 477.8 294.8C477.6 296.2 476.5 298.0 475.5 299.2C474.5 300.5 472.8 301.1 471.8 302.2C470.8 303.4 470.6 305.1 469.5 306.0C468.4 306.9 466.2 307.6 465.0 307.5C463.8 307.4 463.1 306.1 462.0 305.2C460.9 304.4 459.4 302.6 458.2 302.2C457.1 301.9 455.5 302.1 455.2 303.0C455.0 303.9 456.6 305.8 456.8 307.5C456.9 309.2 456.4 311.8 456.0 313.5C455.6 315.2 455.5 317.0 454.5 318.0C453.5 319.0 451.2 318.9 450.0 319.5C448.8 320.1 448.2 320.8 447.0 321.8C445.8 322.8 444.2 325.0 442.5 325.5C440.8 326.0 438.1 325.5 436.5 324.8C434.9 324.0 433.8 322.6 432.8 321.0C431.8 319.4 431.0 317.0 430.5 315.0C430.0 313.0 429.4 310.8 429.8 309.0C430.1 307.2 432.9 305.6 432.8 304.5C432.6 303.4 430.0 303.4 429.0 302.2C428.0 301.1 427.0 299.2 426.8 297.8C426.5 296.2 427.2 294.6 427.5 293.2C427.8 291.9 427.4 291.0 428.2 289.5Z" fill="#bed1fd"/>
<path d="M436.5 289.5C437.1 287.6 438.1 286.0 439.5 285.0C440.9 284.0 443.0 283.6 444.8 283.5C446.5 283.4 448.5 283.8 450.0 284.2C451.5 284.8 452.8 285.5 453.8 286.5C454.8 287.5 455.8 289.0 456.0 290.2C456.2 291.5 455.0 292.6 455.2 294.0C455.5 295.4 457.2 297.1 457.5 298.5C457.8 299.9 457.4 301.0 456.8 302.2C456.1 303.5 454.5 304.6 453.8 306.0C453.0 307.4 453.0 309.2 452.2 310.5C451.5 311.8 450.2 313.2 449.2 313.5C448.2 313.8 447.1 312.9 446.2 312.0C445.4 311.1 444.9 309.4 444.0 308.2C443.1 307.1 442.0 306.4 441.0 305.2C440.0 304.1 438.9 303.0 438.0 301.5C437.1 300.0 436.0 298.2 435.8 296.2C435.5 294.2 435.9 291.4 436.5 289.5Z" fill="#76b0fc"/>
<path d="M455.2 294.0C456.0 293.0 458.6 292.6 460.5 292.5C462.4 292.4 464.9 292.6 466.5 293.2C468.1 293.9 469.5 295.1 470.2 296.2C471.0 297.4 471.4 298.8 471.0 300.0C470.6 301.2 469.0 302.8 468.0 303.8C467.0 304.8 466.0 306.0 465.0 306.0C464.0 306.0 463.0 304.6 462.0 303.8C461.0 302.9 460.0 301.6 459.0 300.8C458.0 299.9 456.6 299.6 456.0 298.5C455.4 297.4 454.5 295.0 455.2 294.0Z" fill="#76b0fc"/>
<path d="M438.0 291.0C438.5 289.9 439.6 288.6 441.0 288.0C442.4 287.4 444.6 287.0 446.2 287.2C447.9 287.5 449.5 288.6 450.8 289.5C452.0 290.4 453.2 291.2 453.8 292.5C454.2 293.8 453.5 295.6 453.8 297.0C454.0 298.4 455.4 299.5 455.2 300.8C455.1 302.0 454.0 303.5 453.0 304.5C452.0 305.5 450.4 306.9 449.2 306.8C448.1 306.6 447.2 304.6 446.2 303.8C445.2 302.9 444.2 302.4 443.2 301.5C442.2 300.6 441.1 299.6 440.2 298.5C439.4 297.4 438.4 296.0 438.0 294.8C437.6 293.5 437.5 292.1 438.0 291.0Z" fill="#0668fb"/>
<ellipse cx="463" cy="297.5" rx="2.5" ry="1.5" transform="rotate(10 463 297.5)" fill="#0668fb"/>
<ellipse cx="467" cy="301.5" rx="1.8" ry="1.2" transform="rotate(0 467 301.5)" fill="#0668fb"/>
<path d="M440.2 290.2C441.1 289.9 443.0 290.1 444.0 291.0C445.0 291.9 445.5 294.0 446.2 295.5C447.0 297.0 448.0 298.5 448.5 300.0C449.0 301.5 449.6 303.9 449.2 304.5C448.9 305.1 447.2 304.5 446.2 303.8C445.2 303.0 444.2 301.2 443.2 300.0C442.2 298.8 441.0 297.4 440.2 296.2C439.5 295.1 438.8 294.2 438.8 293.2C438.8 292.2 439.4 290.6 440.2 290.2Z" fill="#0558d6"/>

</g>
<path d="M436.0 285.0 L435.0 290.0 L432.0 294.0 L428.0 297.0 L424.0 298.0M436.0 285.0 L439.0 289.0 L441.0 294.0 L444.0 299.0 L447.0 303.0 L449.0 307.0 L448.0 312.0 L450.0 316.0M430.0 305.0 L434.0 303.0 L438.0 304.0 L442.0 307.0 L444.0 311.0 L443.0 316.0 L444.0 322.0M453.0 277.0 L456.0 281.0 L459.0 286.0 L458.0 290.0 L461.0 293.0 L466.0 292.0 L470.0 295.0 L475.0 298.0M454.0 296.0 L457.0 293.0 L461.0 293.0M461.0 293.0 L463.0 298.0 L467.0 301.0 L471.0 305.0M444.0 299.0 L448.0 298.0 L451.0 300.0 L452.5 299.0" fill="none" stroke="#3d3d3d" stroke-width="0.75" stroke-linejoin="round"/>
<path d="M421.0 262.0 L424.0 266.0 L427.0 272.0 L430.0 278.0 L434.0 283.0 L436.0 285.0 L441.0 283.0 L445.0 279.0 L449.0 276.0 L453.0 277.0 L454.5 274.4 L457.1 271.8 L461.0 269.9 L464.9 270.5 L468.2 269.2 L471.4 271.2 L474.0 274.4 L477.9 277.0 L480.5 280.9 L483.8 283.5 L486.4 286.1 L489.6 283.5 L493.5 281.6 L498.1 282.9 L496.8 286.1 L493.5 288.7 L490.9 292.0 L488.3 295.2 L489.0 299.1 L487.0 302.4 L484.4 301.7 L483.8 298.5 L481.2 296.5 L478.6 298.5 L476.0 297.2 L477.3 301.1 L479.2 303.0 L478.6 306.3 L476.0 305.6 L474.0 302.4 L471.4 304.3 L468.8 306.9 L466.2 309.5 L463.5 311.2 L461.0 307.0 L458.0 303.0 L456.0 299.0 L454.0 296.0 L452.5 299.0 L453.5 304.0 L455.0 309.0 L457.0 315.0 L454.0 318.0 L451.0 316.0 L450.0 321.0 L444.0 322.0 L438.0 325.0 L433.0 330.0 L429.0 327.0 L424.0 322.0 L419.0 319.0 L421.0 314.0 L426.0 309.0 L430.0 305.0 L426.0 303.0 L424.0 298.0 L419.0 296.0 L413.0 295.0 L406.0 294.0 L400.0 292.0 L402.0 286.0 L404.0 280.0 L409.0 277.0 L410.0 271.0 L413.0 267.0 L418.0 265.0Z" fill="none" stroke="#a8a8a8" stroke-width="0.8" stroke-linejoin="round"/>
<path d="M477.5 202.5L480 201.3L483 202.5L484.8 204.5L483 205.8L480 205Z" fill="#ececec" stroke="#aaa" stroke-width="0.5"/>
<ellipse cx="481" cy="198.5" rx="1.4" ry="1" fill="#e6e6e6" stroke="#aaa" stroke-width="0.4"/>
<circle cx="486" cy="188.4" r="0.7" fill="#bbb"/>
<path d="M476 216l2 -1l1.5 1.5l-1.5 1.5zM474.5 220l1.8 -0.6l0.8 1.6l-1.6 0.8zM478.5 222l1.2 0l0 1.5l-1.2 0z" fill="#e6e6e6" stroke="#aaa" stroke-width="0.4"/>
<path d="M466 311.5l2.5 -2l2 0.5l-1 2l-2.5 1.5zM471.5 309l2 -1.5l2.5 0.5l-1.5 2l-2.5 0.5zM469.5 313.5l1.5 -0.5l0.5 1.5l-1.5 0.5zM476 309.5l1.5 -1l1 1.5l-1.5 1z" fill="#e6e6e6" stroke="#aaa" stroke-width="0.4"/>
<rect x="185" y="355.3" width="39.1" height="10.6" fill="#044aae"/>
<rect x="223.8" y="355.3" width="39.2" height="10.6" fill="#0668fb"/>
<rect x="262.7" y="355.3" width="39.1" height="10.6" fill="#76b0fc"/>
<rect x="301.5" y="355.3" width="39.1" height="10.6" fill="#bed1fd"/>
<rect x="340.3" y="355.3" width="39.2" height="10.6" fill="#e0e0e0"/>
<rect x="379.2" y="355.3" width="39.1" height="10.6" fill="#ffbdbf"/>
<rect x="223.5" y="355.3" width="0.6" height="10.6" fill="#fff" opacity="0.7"/>
<rect x="262.4" y="355.3" width="0.6" height="10.6" fill="#fff" opacity="0.7"/>
<rect x="301.2" y="355.3" width="0.6" height="10.6" fill="#fff" opacity="0.7"/>
<rect x="340.0" y="355.3" width="0.6" height="10.6" fill="#fff" opacity="0.7"/>
<rect x="378.9" y="355.3" width="0.6" height="10.6" fill="#fff" opacity="0.7"/>
<g>
<text x="173.0" y="384.7" font-size="14" text-anchor="start">-1.5</text>
<text x="209.9" y="384.7" font-size="14" text-anchor="start">-1.0</text>
<text x="246.5" y="384.7" font-size="14" text-anchor="start">-0.60</text>
<text x="285.4" y="384.7" font-size="14" text-anchor="start">-0.40</text>
<text x="327.0" y="384.7" font-size="14" text-anchor="start">-0.20</text>
<text x="377.6" y="384.7" font-size="14" text-anchor="start">0</text>
<text x="407.8" y="384.7" font-size="14" text-anchor="start">0.03</text>
<text x="451" y="384.7" font-size="14">μg m<tspan dy="-5.4" dx="0.6" font-size="8.8">-3</tspan></text>
<text x="213.2" y="302.6" font-size="14.3" font-weight="bold" text-anchor="start">a</text>
<text x="229.6" y="302.6" font-size="14.2" text-anchor="start">China</text>
<text x="490.2" y="40.2" font-size="14.3" font-weight="bold" text-anchor="start">b</text>
<text x="506.6" y="40.2" font-size="14.3" text-anchor="start">JJJ region</text>
<text x="490.2" y="154" font-size="14.3" font-weight="bold" text-anchor="start">c</text>
<text x="505.8" y="154" font-size="14.3" text-anchor="start">YRD region</text>
<text x="490.0" y="274.7" font-size="14.3" font-weight="bold" text-anchor="start">d</text>
<text x="506.6" y="274.7" font-size="14.3" text-anchor="start">PRD region</text>
</g>
</svg>
</body>
</html>
